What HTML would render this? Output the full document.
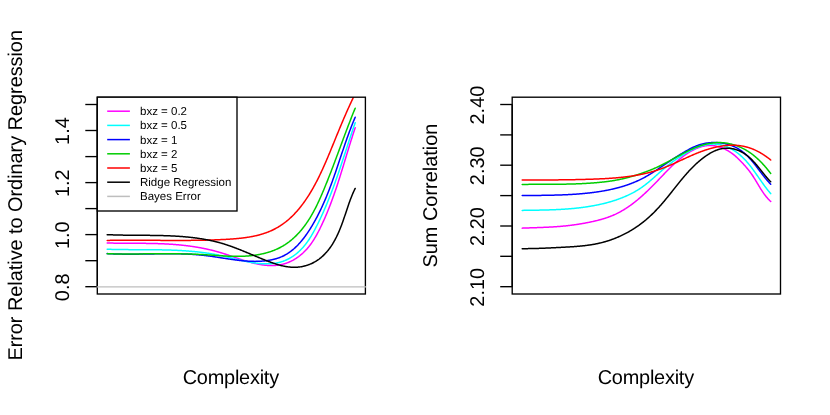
<!DOCTYPE html>
<html><head><meta charset="utf-8"><title>plot</title>
<style>
html,body{margin:0;padding:0;background:#fff;}
svg{display:block;will-change:transform;font-family:"Liberation Sans",sans-serif;fill:#000;text-rendering:geometricPrecision;}
</style></head><body>
<svg width="830" height="415" viewBox="0 0 830 415">
<rect width="830" height="415" fill="#fff"/>
<defs>
<clipPath id="cl"><rect x="97.3" y="97.2" width="268.1" height="196.8"/></clipPath>
<clipPath id="cr"><rect x="512.2" y="97.2" width="268.3" height="196.8"/></clipPath>
</defs>
<!-- left panel -->
<g clip-path="url(#cl)">
<polyline fill="none" stroke="#ff00ff" stroke-width="1.5" stroke-linecap="round" stroke-linejoin="round" points="107.2,242.98 107.7,242.99 108.2,243.01 108.7,243.02 109.2,243.03 109.7,243.05 110.2,243.06 110.7,243.07 111.2,243.08 111.7,243.09 112.2,243.10 112.7,243.11 113.2,243.12 113.7,243.13 114.2,243.14 114.7,243.15 115.2,243.15 115.7,243.16 116.2,243.17 116.7,243.18 117.2,243.18 117.7,243.19 118.2,243.19 118.7,243.20 119.2,243.20 119.7,243.21 120.2,243.21 120.7,243.22 121.2,243.22 121.7,243.23 122.2,243.23 122.7,243.24 123.2,243.24 123.7,243.24 124.2,243.25 124.7,243.25 125.2,243.25 125.7,243.25 126.2,243.26 126.7,243.26 127.2,243.26 127.7,243.26 128.2,243.27 128.7,243.27 129.2,243.27 129.7,243.27 130.2,243.28 130.7,243.28 131.2,243.28 131.7,243.28 132.2,243.28 132.7,243.29 133.2,243.29 133.7,243.29 134.2,243.29 134.7,243.29 135.2,243.30 135.7,243.30 136.2,243.30 136.7,243.30 137.2,243.31 137.7,243.31 138.2,243.31 138.7,243.31 139.2,243.32 139.7,243.32 140.2,243.32 140.7,243.33 141.2,243.33 141.7,243.33 142.2,243.34 142.7,243.34 143.2,243.35 143.7,243.35 144.2,243.36 144.7,243.36 145.2,243.37 145.7,243.37 146.2,243.38 146.7,243.39 147.2,243.39 147.7,243.40 148.2,243.41 148.7,243.41 149.2,243.42 149.7,243.43 150.2,243.44 150.7,243.45 151.2,243.46 151.7,243.47 152.2,243.48 152.7,243.49 153.2,243.50 153.7,243.51 154.2,243.52 154.7,243.53 155.2,243.55 155.7,243.56 156.2,243.57 156.7,243.59 157.2,243.60 157.7,243.62 158.2,243.64 158.7,243.65 159.2,243.67 159.7,243.69 160.2,243.70 160.7,243.72 161.2,243.74 161.7,243.76 162.2,243.78 162.7,243.80 163.2,243.82 163.7,243.85 164.2,243.87 164.7,243.89 165.2,243.92 165.7,243.94 166.2,243.97 166.7,244.00 167.2,244.02 167.7,244.05 168.2,244.08 168.7,244.11 169.2,244.14 169.7,244.17 170.2,244.20 170.7,244.23 171.2,244.27 171.7,244.30 172.2,244.33 172.7,244.37 173.2,244.41 173.7,244.44 174.2,244.48 174.7,244.52 175.2,244.56 175.7,244.60 176.2,244.64 176.7,244.68 177.2,244.73 177.7,244.77 178.2,244.81 178.7,244.86 179.2,244.91 179.7,244.95 180.2,245.00 180.7,245.05 181.2,245.10 181.7,245.15 182.2,245.21 182.7,245.26 183.2,245.31 183.7,245.37 184.2,245.42 184.7,245.48 185.2,245.54 185.7,245.60 186.2,245.66 186.7,245.72 187.2,245.78 187.7,245.84 188.2,245.90 188.7,245.97 189.2,246.04 189.7,246.10 190.2,246.17 190.7,246.24 191.2,246.31 191.7,246.38 192.2,246.45 192.7,246.53 193.2,246.60 193.7,246.68 194.2,246.75 194.7,246.83 195.2,246.91 195.7,246.99 196.2,247.07 196.7,247.16 197.2,247.24 197.7,247.32 198.2,247.41 198.7,247.50 199.2,247.59 199.7,247.68 200.2,247.77 200.7,247.86 201.2,247.95 201.7,248.05 202.2,248.14 202.7,248.24 203.2,248.34 203.7,248.44 204.2,248.54 204.7,248.64 205.2,248.75 205.7,248.85 206.2,248.96 206.7,249.07 207.2,249.18 207.7,249.29 208.2,249.40 208.7,249.51 209.2,249.63 209.7,249.74 210.2,249.86 210.7,249.98 211.2,250.10 211.7,250.22 212.2,250.34 212.7,250.47 213.2,250.59 213.7,250.72 214.2,250.85 214.7,250.98 215.2,251.11 215.7,251.25 216.2,251.38 216.7,251.52 217.2,251.66 217.7,251.79 218.2,251.94 218.7,252.08 219.2,252.22 219.7,252.37 220.2,252.52 220.7,252.67 221.2,252.82 221.7,252.97 222.2,253.12 222.7,253.28 223.2,253.43 223.7,253.59 224.2,253.75 224.7,253.92 225.2,254.08 225.7,254.24 226.2,254.41 226.7,254.57 227.2,254.74 227.7,254.91 228.2,255.08 228.7,255.25 229.2,255.42 229.7,255.59 230.2,255.76 230.7,255.93 231.2,256.11 231.7,256.28 232.2,256.45 232.7,256.63 233.2,256.80 233.7,256.97 234.2,257.15 234.7,257.32 235.2,257.49 235.7,257.67 236.2,257.84 236.7,258.01 237.2,258.18 237.7,258.35 238.2,258.52 238.7,258.69 239.2,258.86 239.7,259.03 240.2,259.20 240.7,259.36 241.2,259.53 241.7,259.69 242.2,259.86 242.7,260.02 243.2,260.18 243.7,260.34 244.2,260.50 244.7,260.65 245.2,260.81 245.7,260.96 246.2,261.11 246.7,261.26 247.2,261.41 247.7,261.56 248.2,261.70 248.7,261.85 249.2,261.99 249.7,262.13 250.2,262.26 250.7,262.40 251.2,262.53 251.7,262.66 252.2,262.79 252.7,262.92 253.2,263.04 253.7,263.16 254.2,263.28 254.7,263.40 255.2,263.51 255.7,263.62 256.2,263.73 256.7,263.84 257.2,263.94 257.7,264.05 258.2,264.14 258.7,264.24 259.2,264.33 259.7,264.42 260.2,264.51 260.7,264.59 261.2,264.67 261.7,264.75 262.2,264.83 262.7,264.90 263.2,264.96 263.7,265.03 264.2,265.09 264.7,265.15 265.2,265.20 265.7,265.25 266.2,265.30 266.7,265.34 267.2,265.38 267.7,265.41 268.2,265.44 268.7,265.47 269.2,265.49 269.7,265.51 270.2,265.53 270.7,265.54 271.2,265.54 271.7,265.54 272.2,265.54 272.7,265.53 273.2,265.52 273.7,265.50 274.2,265.48 274.7,265.45 275.2,265.42 275.7,265.38 276.2,265.34 276.7,265.29 277.2,265.24 277.7,265.18 278.2,265.11 278.7,265.04 279.2,264.96 279.7,264.88 280.2,264.79 280.7,264.69 281.2,264.59 281.7,264.48 282.2,264.37 282.7,264.25 283.2,264.12 283.7,263.98 284.2,263.84 284.7,263.69 285.2,263.54 285.7,263.37 286.2,263.20 286.7,263.03 287.2,262.84 287.7,262.65 288.2,262.45 288.7,262.25 289.2,262.03 289.7,261.81 290.2,261.59 290.7,261.35 291.2,261.11 291.7,260.86 292.2,260.60 292.7,260.34 293.2,260.06 293.7,259.78 294.2,259.49 294.7,259.20 295.2,258.89 295.7,258.58 296.2,258.26 296.7,257.93 297.2,257.59 297.7,257.24 298.2,256.88 298.7,256.52 299.2,256.14 299.7,255.76 300.2,255.36 300.7,254.96 301.2,254.54 301.7,254.12 302.2,253.68 302.7,253.24 303.2,252.78 303.7,252.31 304.2,251.83 304.7,251.33 305.2,250.83 305.7,250.31 306.2,249.77 306.7,249.22 307.2,248.66 307.7,248.08 308.2,247.49 308.7,246.88 309.2,246.25 309.7,245.61 310.2,244.95 310.7,244.27 311.2,243.58 311.7,242.87 312.2,242.14 312.7,241.40 313.2,240.64 313.7,239.85 314.2,239.05 314.7,238.23 315.2,237.40 315.7,236.54 316.2,235.66 316.7,234.77 317.2,233.86 317.7,232.93 318.2,231.98 318.7,231.02 319.2,230.04 319.7,229.04 320.2,228.03 320.7,227.00 321.2,225.96 321.7,224.91 322.2,223.85 322.7,222.77 323.2,221.68 323.7,220.58 324.2,219.46 324.7,218.33 325.2,217.19 325.7,216.03 326.2,214.85 326.7,213.67 327.2,212.46 327.7,211.25 328.2,210.02 328.7,208.77 329.2,207.51 329.7,206.23 330.2,204.93 330.7,203.62 331.2,202.30 331.7,200.96 332.2,199.60 332.7,198.23 333.2,196.84 333.7,195.44 334.2,194.02 334.7,192.58 335.2,191.13 335.7,189.66 336.2,188.18 336.7,186.69 337.2,185.18 337.7,183.66 338.2,182.12 338.7,180.57 339.2,179.01 339.7,177.44 340.2,175.85 340.7,174.26 341.2,172.65 341.7,171.04 342.2,169.42 342.7,167.79 343.2,166.16 343.7,164.52 344.2,162.88 344.7,161.24 345.2,159.59 345.7,157.94 346.2,156.30 346.7,154.65 347.2,153.01 347.7,151.37 348.2,149.73 348.7,148.10 349.2,146.48 349.7,144.86 350.2,143.25 350.7,141.65 351.2,140.06 351.7,138.48 352.2,136.91 352.7,135.35 353.2,133.81 353.7,132.27 354.2,130.75 354.7,129.25 355.2,127.75"/>
<polyline fill="none" stroke="#00ffff" stroke-width="1.5" stroke-linecap="round" stroke-linejoin="round" points="107.2,249.26 107.7,249.28 108.2,249.29 108.7,249.31 109.2,249.32 109.7,249.33 110.2,249.35 110.7,249.36 111.2,249.37 111.7,249.39 112.2,249.40 112.7,249.41 113.2,249.42 113.7,249.43 114.2,249.44 114.7,249.45 115.2,249.46 115.7,249.47 116.2,249.48 116.7,249.49 117.2,249.50 117.7,249.51 118.2,249.52 118.7,249.52 119.2,249.53 119.7,249.54 120.2,249.55 120.7,249.55 121.2,249.56 121.7,249.56 122.2,249.57 122.7,249.58 123.2,249.58 123.7,249.59 124.2,249.59 124.7,249.59 125.2,249.60 125.7,249.60 126.2,249.61 126.7,249.61 127.2,249.62 127.7,249.62 128.2,249.62 128.7,249.63 129.2,249.63 129.7,249.63 130.2,249.63 130.7,249.64 131.2,249.64 131.7,249.64 132.2,249.64 132.7,249.65 133.2,249.65 133.7,249.65 134.2,249.65 134.7,249.65 135.2,249.66 135.7,249.66 136.2,249.66 136.7,249.66 137.2,249.66 137.7,249.67 138.2,249.67 138.7,249.67 139.2,249.67 139.7,249.67 140.2,249.67 140.7,249.68 141.2,249.68 141.7,249.68 142.2,249.68 142.7,249.68 143.2,249.68 143.7,249.69 144.2,249.69 144.7,249.69 145.2,249.69 145.7,249.70 146.2,249.70 146.7,249.70 147.2,249.70 147.7,249.71 148.2,249.71 148.7,249.71 149.2,249.72 149.7,249.72 150.2,249.72 150.7,249.73 151.2,249.73 151.7,249.74 152.2,249.74 152.7,249.74 153.2,249.75 153.7,249.75 154.2,249.76 154.7,249.76 155.2,249.77 155.7,249.78 156.2,249.78 156.7,249.79 157.2,249.80 157.7,249.80 158.2,249.81 158.7,249.82 159.2,249.83 159.7,249.83 160.2,249.84 160.7,249.85 161.2,249.86 161.7,249.87 162.2,249.88 162.7,249.89 163.2,249.90 163.7,249.91 164.2,249.92 164.7,249.93 165.2,249.95 165.7,249.96 166.2,249.97 166.7,249.98 167.2,250.00 167.7,250.01 168.2,250.03 168.7,250.04 169.2,250.06 169.7,250.07 170.2,250.09 170.7,250.11 171.2,250.12 171.7,250.14 172.2,250.16 172.7,250.18 173.2,250.20 173.7,250.22 174.2,250.24 174.7,250.26 175.2,250.28 175.7,250.30 176.2,250.32 176.7,250.35 177.2,250.37 177.7,250.39 178.2,250.42 178.7,250.44 179.2,250.47 179.7,250.50 180.2,250.52 180.7,250.55 181.2,250.58 181.7,250.61 182.2,250.64 182.7,250.67 183.2,250.70 183.7,250.73 184.2,250.76 184.7,250.80 185.2,250.83 185.7,250.87 186.2,250.90 186.7,250.94 187.2,250.97 187.7,251.01 188.2,251.05 188.7,251.09 189.2,251.13 189.7,251.17 190.2,251.21 190.7,251.25 191.2,251.29 191.7,251.34 192.2,251.38 192.7,251.43 193.2,251.47 193.7,251.52 194.2,251.57 194.7,251.62 195.2,251.66 195.7,251.71 196.2,251.77 196.7,251.82 197.2,251.87 197.7,251.92 198.2,251.98 198.7,252.03 199.2,252.09 199.7,252.15 200.2,252.21 200.7,252.26 201.2,252.32 201.7,252.39 202.2,252.45 202.7,252.51 203.2,252.57 203.7,252.64 204.2,252.71 204.7,252.77 205.2,252.84 205.7,252.91 206.2,252.98 206.7,253.05 207.2,253.12 207.7,253.19 208.2,253.27 208.7,253.34 209.2,253.42 209.7,253.50 210.2,253.58 210.7,253.66 211.2,253.74 211.7,253.82 212.2,253.90 212.7,253.98 213.2,254.07 213.7,254.16 214.2,254.24 214.7,254.33 215.2,254.42 215.7,254.51 216.2,254.60 216.7,254.70 217.2,254.79 217.7,254.89 218.2,254.98 218.7,255.08 219.2,255.18 219.7,255.28 220.2,255.38 220.7,255.49 221.2,255.59 221.7,255.70 222.2,255.80 222.7,255.91 223.2,256.02 223.7,256.13 224.2,256.24 224.7,256.36 225.2,256.47 225.7,256.59 226.2,256.70 226.7,256.82 227.2,256.94 227.7,257.06 228.2,257.18 228.7,257.29 229.2,257.42 229.7,257.54 230.2,257.66 230.7,257.78 231.2,257.90 231.7,258.02 232.2,258.15 232.7,258.27 233.2,258.39 233.7,258.52 234.2,258.64 234.7,258.76 235.2,258.88 235.7,259.01 236.2,259.13 236.7,259.25 237.2,259.37 237.7,259.49 238.2,259.62 238.7,259.74 239.2,259.86 239.7,259.97 240.2,260.09 240.7,260.21 241.2,260.33 241.7,260.44 242.2,260.56 242.7,260.67 243.2,260.79 243.7,260.90 244.2,261.01 244.7,261.12 245.2,261.23 245.7,261.33 246.2,261.44 246.7,261.54 247.2,261.64 247.7,261.74 248.2,261.84 248.7,261.94 249.2,262.04 249.7,262.13 250.2,262.22 250.7,262.31 251.2,262.40 251.7,262.49 252.2,262.57 252.7,262.65 253.2,262.73 253.7,262.81 254.2,262.89 254.7,262.96 255.2,263.03 255.7,263.10 256.2,263.16 256.7,263.22 257.2,263.28 257.7,263.34 258.2,263.40 258.7,263.45 259.2,263.50 259.7,263.54 260.2,263.59 260.7,263.63 261.2,263.66 261.7,263.70 262.2,263.73 262.7,263.75 263.2,263.78 263.7,263.80 264.2,263.81 264.7,263.83 265.2,263.84 265.7,263.84 266.2,263.85 266.7,263.85 267.2,263.84 267.7,263.83 268.2,263.82 268.7,263.80 269.2,263.78 269.7,263.76 270.2,263.73 270.7,263.70 271.2,263.66 271.7,263.62 272.2,263.57 272.7,263.52 273.2,263.47 273.7,263.41 274.2,263.34 274.7,263.27 275.2,263.20 275.7,263.12 276.2,263.03 276.7,262.94 277.2,262.85 277.7,262.74 278.2,262.64 278.7,262.52 279.2,262.40 279.7,262.28 280.2,262.15 280.7,262.01 281.2,261.86 281.7,261.71 282.2,261.55 282.7,261.38 283.2,261.21 283.7,261.02 284.2,260.83 284.7,260.64 285.2,260.43 285.7,260.22 286.2,260.00 286.7,259.77 287.2,259.54 287.7,259.30 288.2,259.04 288.7,258.78 289.2,258.52 289.7,258.24 290.2,257.96 290.7,257.67 291.2,257.37 291.7,257.06 292.2,256.74 292.7,256.41 293.2,256.08 293.7,255.73 294.2,255.38 294.7,255.01 295.2,254.64 295.7,254.26 296.2,253.86 296.7,253.46 297.2,253.05 297.7,252.62 298.2,252.19 298.7,251.74 299.2,251.29 299.7,250.82 300.2,250.34 300.7,249.84 301.2,249.33 301.7,248.81 302.2,248.28 302.7,247.73 303.2,247.17 303.7,246.59 304.2,246.00 304.7,245.39 305.2,244.77 305.7,244.13 306.2,243.48 306.7,242.81 307.2,242.12 307.7,241.42 308.2,240.70 308.7,239.96 309.2,239.21 309.7,238.44 310.2,237.65 310.7,236.84 311.2,236.02 311.7,235.19 312.2,234.33 312.7,233.46 313.2,232.57 313.7,231.67 314.2,230.75 314.7,229.82 315.2,228.88 315.7,227.92 316.2,226.95 316.7,225.97 317.2,224.98 317.7,223.99 318.2,222.98 318.7,221.96 319.2,220.93 319.7,219.89 320.2,218.84 320.7,217.78 321.2,216.71 321.7,215.63 322.2,214.54 322.7,213.44 323.2,212.32 323.7,211.20 324.2,210.06 324.7,208.91 325.2,207.76 325.7,206.59 326.2,205.41 326.7,204.21 327.2,203.01 327.7,201.79 328.2,200.56 328.7,199.32 329.2,198.07 329.7,196.81 330.2,195.53 330.7,194.25 331.2,192.95 331.7,191.64 332.2,190.32 332.7,188.99 333.2,187.64 333.7,186.29 334.2,184.92 334.7,183.55 335.2,182.16 335.7,180.76 336.2,179.36 336.7,177.94 337.2,176.51 337.7,175.08 338.2,173.63 338.7,172.18 339.2,170.72 339.7,169.25 340.2,167.77 340.7,166.29 341.2,164.80 341.7,163.31 342.2,161.80 342.7,160.30 343.2,158.79 343.7,157.28 344.2,155.76 344.7,154.24 345.2,152.72 345.7,151.19 346.2,149.67 346.7,148.15 347.2,146.62 347.7,145.10 348.2,143.58 348.7,142.06 349.2,140.55 349.7,139.03 350.2,137.52 350.7,136.02 351.2,134.52 351.7,133.03 352.2,131.54 352.7,130.06 353.2,128.58 353.7,127.11 354.2,125.65 354.7,124.20 355.2,122.76"/>
<polyline fill="none" stroke="#0000ff" stroke-width="1.5" stroke-linecap="round" stroke-linejoin="round" points="107.2,253.60 107.7,253.62 108.2,253.65 108.7,253.68 109.2,253.71 109.7,253.73 110.2,253.76 110.7,253.78 111.2,253.81 111.7,253.83 112.2,253.85 112.7,253.87 113.2,253.89 113.7,253.91 114.2,253.93 114.7,253.95 115.2,253.96 115.7,253.98 116.2,254.00 116.7,254.01 117.2,254.03 117.7,254.04 118.2,254.05 118.7,254.06 119.2,254.08 119.7,254.09 120.2,254.10 120.7,254.11 121.2,254.12 121.7,254.12 122.2,254.13 122.7,254.14 123.2,254.15 123.7,254.15 124.2,254.16 124.7,254.16 125.2,254.17 125.7,254.17 126.2,254.17 126.7,254.18 127.2,254.18 127.7,254.18 128.2,254.18 128.7,254.18 129.2,254.18 129.7,254.18 130.2,254.18 130.7,254.18 131.2,254.18 131.7,254.18 132.2,254.18 132.7,254.18 133.2,254.17 133.7,254.17 134.2,254.17 134.7,254.16 135.2,254.16 135.7,254.16 136.2,254.15 136.7,254.15 137.2,254.14 137.7,254.14 138.2,254.13 138.7,254.13 139.2,254.12 139.7,254.11 140.2,254.11 140.7,254.10 141.2,254.09 141.7,254.09 142.2,254.08 142.7,254.07 143.2,254.06 143.7,254.06 144.2,254.05 144.7,254.04 145.2,254.03 145.7,254.02 146.2,254.02 146.7,254.01 147.2,254.00 147.7,253.99 148.2,253.98 148.7,253.97 149.2,253.97 149.7,253.96 150.2,253.95 150.7,253.94 151.2,253.93 151.7,253.92 152.2,253.92 152.7,253.91 153.2,253.90 153.7,253.89 154.2,253.88 154.7,253.87 155.2,253.87 155.7,253.86 156.2,253.85 156.7,253.84 157.2,253.84 157.7,253.83 158.2,253.82 158.7,253.82 159.2,253.81 159.7,253.80 160.2,253.80 160.7,253.79 161.2,253.79 161.7,253.78 162.2,253.78 162.7,253.77 163.2,253.77 163.7,253.76 164.2,253.76 164.7,253.75 165.2,253.75 165.7,253.75 166.2,253.75 166.7,253.74 167.2,253.74 167.7,253.74 168.2,253.74 168.7,253.74 169.2,253.74 169.7,253.74 170.2,253.74 170.7,253.74 171.2,253.74 171.7,253.74 172.2,253.75 172.7,253.75 173.2,253.75 173.7,253.76 174.2,253.76 174.7,253.77 175.2,253.77 175.7,253.78 176.2,253.78 176.7,253.79 177.2,253.80 177.7,253.81 178.2,253.82 178.7,253.83 179.2,253.84 179.7,253.85 180.2,253.86 180.7,253.87 181.2,253.88 181.7,253.90 182.2,253.91 182.7,253.93 183.2,253.94 183.7,253.96 184.2,253.98 184.7,254.00 185.2,254.01 185.7,254.03 186.2,254.05 186.7,254.08 187.2,254.10 187.7,254.12 188.2,254.14 188.7,254.17 189.2,254.19 189.7,254.22 190.2,254.25 190.7,254.28 191.2,254.30 191.7,254.33 192.2,254.36 192.7,254.40 193.2,254.43 193.7,254.46 194.2,254.50 194.7,254.53 195.2,254.57 195.7,254.61 196.2,254.64 196.7,254.68 197.2,254.72 197.7,254.77 198.2,254.81 198.7,254.85 199.2,254.90 199.7,254.94 200.2,254.99 200.7,255.04 201.2,255.09 201.7,255.14 202.2,255.19 202.7,255.24 203.2,255.29 203.7,255.35 204.2,255.41 204.7,255.46 205.2,255.52 205.7,255.58 206.2,255.64 206.7,255.70 207.2,255.77 207.7,255.83 208.2,255.90 208.7,255.96 209.2,256.03 209.7,256.10 210.2,256.17 210.7,256.23 211.2,256.31 211.7,256.38 212.2,256.45 212.7,256.52 213.2,256.59 213.7,256.67 214.2,256.74 214.7,256.82 215.2,256.89 215.7,256.97 216.2,257.04 216.7,257.12 217.2,257.20 217.7,257.27 218.2,257.35 218.7,257.43 219.2,257.51 219.7,257.59 220.2,257.66 220.7,257.74 221.2,257.82 221.7,257.90 222.2,257.98 222.7,258.06 223.2,258.14 223.7,258.21 224.2,258.29 224.7,258.37 225.2,258.45 225.7,258.53 226.2,258.60 226.7,258.68 227.2,258.76 227.7,258.83 228.2,258.91 228.7,258.98 229.2,259.06 229.7,259.13 230.2,259.21 230.7,259.28 231.2,259.35 231.7,259.42 232.2,259.50 232.7,259.57 233.2,259.63 233.7,259.70 234.2,259.77 234.7,259.84 235.2,259.90 235.7,259.97 236.2,260.03 236.7,260.10 237.2,260.16 237.7,260.22 238.2,260.28 238.7,260.34 239.2,260.39 239.7,260.45 240.2,260.50 240.7,260.56 241.2,260.61 241.7,260.66 242.2,260.71 242.7,260.76 243.2,260.80 243.7,260.85 244.2,260.89 244.7,260.93 245.2,260.97 245.7,261.01 246.2,261.05 246.7,261.08 247.2,261.12 247.7,261.15 248.2,261.18 248.7,261.20 249.2,261.23 249.7,261.25 250.2,261.28 250.7,261.30 251.2,261.31 251.7,261.33 252.2,261.34 252.7,261.35 253.2,261.36 253.7,261.37 254.2,261.37 254.7,261.38 255.2,261.38 255.7,261.37 256.2,261.37 256.7,261.36 257.2,261.35 257.7,261.34 258.2,261.33 258.7,261.31 259.2,261.29 259.7,261.27 260.2,261.24 260.7,261.21 261.2,261.18 261.7,261.15 262.2,261.11 262.7,261.08 263.2,261.03 263.7,260.99 264.2,260.94 264.7,260.89 265.2,260.84 265.7,260.78 266.2,260.72 266.7,260.65 267.2,260.59 267.7,260.51 268.2,260.44 268.7,260.36 269.2,260.28 269.7,260.19 270.2,260.10 270.7,260.01 271.2,259.91 271.7,259.81 272.2,259.70 272.7,259.59 273.2,259.47 273.7,259.35 274.2,259.23 274.7,259.10 275.2,258.96 275.7,258.82 276.2,258.68 276.7,258.53 277.2,258.37 277.7,258.21 278.2,258.04 278.7,257.86 279.2,257.68 279.7,257.50 280.2,257.30 280.7,257.10 281.2,256.89 281.7,256.68 282.2,256.45 282.7,256.22 283.2,255.98 283.7,255.74 284.2,255.48 284.7,255.22 285.2,254.95 285.7,254.67 286.2,254.38 286.7,254.08 287.2,253.77 287.7,253.46 288.2,253.13 288.7,252.80 289.2,252.46 289.7,252.11 290.2,251.75 290.7,251.38 291.2,251.00 291.7,250.61 292.2,250.21 292.7,249.80 293.2,249.38 293.7,248.96 294.2,248.52 294.7,248.07 295.2,247.61 295.7,247.14 296.2,246.67 296.7,246.18 297.2,245.68 297.7,245.17 298.2,244.65 298.7,244.11 299.2,243.57 299.7,243.02 300.2,242.45 300.7,241.88 301.2,241.29 301.7,240.69 302.2,240.08 302.7,239.46 303.2,238.83 303.7,238.19 304.2,237.53 304.7,236.87 305.2,236.19 305.7,235.50 306.2,234.80 306.7,234.09 307.2,233.37 307.7,232.63 308.2,231.89 308.7,231.13 309.2,230.36 309.7,229.58 310.2,228.79 310.7,227.99 311.2,227.18 311.7,226.35 312.2,225.52 312.7,224.68 313.2,223.82 313.7,222.96 314.2,222.08 314.7,221.19 315.2,220.30 315.7,219.38 316.2,218.46 316.7,217.53 317.2,216.58 317.7,215.62 318.2,214.65 318.7,213.66 319.2,212.67 319.7,211.65 320.2,210.63 320.7,209.59 321.2,208.54 321.7,207.47 322.2,206.39 322.7,205.29 323.2,204.18 323.7,203.06 324.2,201.92 324.7,200.77 325.2,199.60 325.7,198.41 326.2,197.21 326.7,196.00 327.2,194.77 327.7,193.52 328.2,192.26 328.7,190.98 329.2,189.69 329.7,188.39 330.2,187.07 330.7,185.73 331.2,184.38 331.7,183.02 332.2,181.64 332.7,180.25 333.2,178.85 333.7,177.44 334.2,176.02 334.7,174.58 335.2,173.14 335.7,171.68 336.2,170.22 336.7,168.75 337.2,167.28 337.7,165.79 338.2,164.31 338.7,162.82 339.2,161.32 339.7,159.83 340.2,158.33 340.7,156.84 341.2,155.34 341.7,153.85 342.2,152.36 342.7,150.88 343.2,149.40 343.7,147.93 344.2,146.46 344.7,145.00 345.2,143.56 345.7,142.12 346.2,140.69 346.7,139.27 347.2,137.86 347.7,136.47 348.2,135.09 348.7,133.72 349.2,132.36 349.7,131.02 350.2,129.69 350.7,128.38 351.2,127.08 351.7,125.79 352.2,124.52 352.7,123.27 353.2,122.02 353.7,120.80 354.2,119.59 354.7,118.39 355.2,117.21"/>
<polyline fill="none" stroke="#00cd00" stroke-width="1.5" stroke-linecap="round" stroke-linejoin="round" points="107.2,253.76 107.7,253.77 108.2,253.78 108.7,253.79 109.2,253.80 109.7,253.81 110.2,253.82 110.7,253.83 111.2,253.84 111.7,253.85 112.2,253.85 112.7,253.86 113.2,253.87 113.7,253.87 114.2,253.88 114.7,253.89 115.2,253.89 115.7,253.90 116.2,253.90 116.7,253.91 117.2,253.91 117.7,253.92 118.2,253.92 118.7,253.92 119.2,253.93 119.7,253.93 120.2,253.93 120.7,253.94 121.2,253.94 121.7,253.94 122.2,253.94 122.7,253.94 123.2,253.95 123.7,253.95 124.2,253.95 124.7,253.95 125.2,253.95 125.7,253.95 126.2,253.95 126.7,253.95 127.2,253.95 127.7,253.95 128.2,253.95 128.7,253.95 129.2,253.95 129.7,253.95 130.2,253.94 130.7,253.94 131.2,253.94 131.7,253.94 132.2,253.94 132.7,253.94 133.2,253.93 133.7,253.93 134.2,253.93 134.7,253.93 135.2,253.92 135.7,253.92 136.2,253.92 136.7,253.92 137.2,253.91 137.7,253.91 138.2,253.91 138.7,253.90 139.2,253.90 139.7,253.90 140.2,253.89 140.7,253.89 141.2,253.89 141.7,253.88 142.2,253.88 142.7,253.88 143.2,253.87 143.7,253.87 144.2,253.86 144.7,253.86 145.2,253.86 145.7,253.85 146.2,253.85 146.7,253.84 147.2,253.84 147.7,253.84 148.2,253.83 148.7,253.83 149.2,253.83 149.7,253.82 150.2,253.82 150.7,253.81 151.2,253.81 151.7,253.81 152.2,253.80 152.7,253.80 153.2,253.80 153.7,253.79 154.2,253.79 154.7,253.79 155.2,253.78 155.7,253.78 156.2,253.78 156.7,253.77 157.2,253.77 157.7,253.77 158.2,253.77 158.7,253.76 159.2,253.76 159.7,253.76 160.2,253.76 160.7,253.76 161.2,253.75 161.7,253.75 162.2,253.75 162.7,253.75 163.2,253.75 163.7,253.75 164.2,253.75 164.7,253.75 165.2,253.75 165.7,253.75 166.2,253.74 166.7,253.75 167.2,253.75 167.7,253.75 168.2,253.75 168.7,253.75 169.2,253.75 169.7,253.75 170.2,253.75 170.7,253.75 171.2,253.76 171.7,253.76 172.2,253.76 172.7,253.76 173.2,253.77 173.7,253.77 174.2,253.77 174.7,253.78 175.2,253.78 175.7,253.79 176.2,253.79 176.7,253.80 177.2,253.80 177.7,253.81 178.2,253.81 178.7,253.82 179.2,253.83 179.7,253.83 180.2,253.84 180.7,253.85 181.2,253.86 181.7,253.86 182.2,253.87 182.7,253.88 183.2,253.89 183.7,253.90 184.2,253.91 184.7,253.92 185.2,253.93 185.7,253.94 186.2,253.96 186.7,253.97 187.2,253.98 187.7,253.99 188.2,254.01 188.7,254.02 189.2,254.03 189.7,254.05 190.2,254.06 190.7,254.08 191.2,254.09 191.7,254.11 192.2,254.13 192.7,254.14 193.2,254.16 193.7,254.18 194.2,254.20 194.7,254.22 195.2,254.24 195.7,254.26 196.2,254.28 196.7,254.30 197.2,254.32 197.7,254.34 198.2,254.36 198.7,254.38 199.2,254.41 199.7,254.43 200.2,254.46 200.7,254.48 201.2,254.51 201.7,254.53 202.2,254.56 202.7,254.58 203.2,254.61 203.7,254.64 204.2,254.67 204.7,254.70 205.2,254.73 205.7,254.76 206.2,254.79 206.7,254.82 207.2,254.85 207.7,254.88 208.2,254.91 208.7,254.95 209.2,254.98 209.7,255.01 210.2,255.05 210.7,255.08 211.2,255.11 211.7,255.15 212.2,255.18 212.7,255.22 213.2,255.25 213.7,255.28 214.2,255.32 214.7,255.35 215.2,255.39 215.7,255.42 216.2,255.46 216.7,255.49 217.2,255.52 217.7,255.56 218.2,255.59 218.7,255.62 219.2,255.66 219.7,255.69 220.2,255.72 220.7,255.75 221.2,255.78 221.7,255.81 222.2,255.84 222.7,255.87 223.2,255.90 223.7,255.93 224.2,255.96 224.7,255.98 225.2,256.01 225.7,256.04 226.2,256.06 226.7,256.09 227.2,256.11 227.7,256.13 228.2,256.15 228.7,256.17 229.2,256.19 229.7,256.21 230.2,256.23 230.7,256.25 231.2,256.26 231.7,256.28 232.2,256.29 232.7,256.30 233.2,256.31 233.7,256.32 234.2,256.33 234.7,256.34 235.2,256.35 235.7,256.35 236.2,256.35 236.7,256.36 237.2,256.36 237.7,256.36 238.2,256.35 238.7,256.35 239.2,256.34 239.7,256.34 240.2,256.33 240.7,256.32 241.2,256.31 241.7,256.29 242.2,256.28 242.7,256.26 243.2,256.24 243.7,256.22 244.2,256.20 244.7,256.17 245.2,256.15 245.7,256.12 246.2,256.09 246.7,256.05 247.2,256.02 247.7,255.98 248.2,255.94 248.7,255.90 249.2,255.86 249.7,255.81 250.2,255.77 250.7,255.72 251.2,255.66 251.7,255.61 252.2,255.55 252.7,255.49 253.2,255.43 253.7,255.37 254.2,255.30 254.7,255.23 255.2,255.16 255.7,255.09 256.2,255.01 256.7,254.94 257.2,254.85 257.7,254.77 258.2,254.68 258.7,254.59 259.2,254.50 259.7,254.41 260.2,254.31 260.7,254.21 261.2,254.11 261.7,254.00 262.2,253.89 262.7,253.78 263.2,253.66 263.7,253.54 264.2,253.42 264.7,253.30 265.2,253.17 265.7,253.04 266.2,252.90 266.7,252.76 267.2,252.62 267.7,252.48 268.2,252.33 268.7,252.18 269.2,252.02 269.7,251.86 270.2,251.69 270.7,251.53 271.2,251.35 271.7,251.18 272.2,251.00 272.7,250.81 273.2,250.63 273.7,250.43 274.2,250.24 274.7,250.03 275.2,249.83 275.7,249.62 276.2,249.40 276.7,249.18 277.2,248.95 277.7,248.72 278.2,248.48 278.7,248.24 279.2,247.99 279.7,247.74 280.2,247.48 280.7,247.22 281.2,246.95 281.7,246.67 282.2,246.39 282.7,246.10 283.2,245.80 283.7,245.50 284.2,245.19 284.7,244.88 285.2,244.55 285.7,244.23 286.2,243.89 286.7,243.55 287.2,243.20 287.7,242.84 288.2,242.48 288.7,242.10 289.2,241.73 289.7,241.34 290.2,240.95 290.7,240.55 291.2,240.14 291.7,239.72 292.2,239.30 292.7,238.86 293.2,238.42 293.7,237.97 294.2,237.52 294.7,237.05 295.2,236.58 295.7,236.10 296.2,235.60 296.7,235.10 297.2,234.59 297.7,234.08 298.2,233.55 298.7,233.01 299.2,232.46 299.7,231.90 300.2,231.34 300.7,230.76 301.2,230.17 301.7,229.57 302.2,228.96 302.7,228.34 303.2,227.71 303.7,227.06 304.2,226.40 304.7,225.74 305.2,225.05 305.7,224.36 306.2,223.65 306.7,222.93 307.2,222.20 307.7,221.46 308.2,220.70 308.7,219.92 309.2,219.14 309.7,218.34 310.2,217.52 310.7,216.69 311.2,215.85 311.7,214.99 312.2,214.11 312.7,213.22 313.2,212.32 313.7,211.40 314.2,210.46 314.7,209.51 315.2,208.55 315.7,207.57 316.2,206.57 316.7,205.56 317.2,204.53 317.7,203.49 318.2,202.43 318.7,201.36 319.2,200.28 319.7,199.18 320.2,198.06 320.7,196.94 321.2,195.80 321.7,194.65 322.2,193.48 322.7,192.31 323.2,191.12 323.7,189.93 324.2,188.73 324.7,187.52 325.2,186.30 325.7,185.07 326.2,183.84 326.7,182.60 327.2,181.36 327.7,180.10 328.2,178.84 328.7,177.58 329.2,176.30 329.7,175.03 330.2,173.74 330.7,172.45 331.2,171.15 331.7,169.85 332.2,168.54 332.7,167.23 333.2,165.92 333.7,164.60 334.2,163.27 334.7,161.94 335.2,160.61 335.7,159.28 336.2,157.94 336.7,156.60 337.2,155.25 337.7,153.91 338.2,152.56 338.7,151.21 339.2,149.87 339.7,148.52 340.2,147.17 340.7,145.82 341.2,144.47 341.7,143.12 342.2,141.78 342.7,140.43 343.2,139.09 343.7,137.75 344.2,136.41 344.7,135.07 345.2,133.74 345.7,132.41 346.2,131.09 346.7,129.77 347.2,128.45 347.7,127.14 348.2,125.83 348.7,124.53 349.2,123.24 349.7,121.94 350.2,120.66 350.7,119.38 351.2,118.11 351.7,116.84 352.2,115.58 352.7,114.33 353.2,113.08 353.7,111.84 354.2,110.61 354.7,109.39 355.2,108.17"/>
<polyline fill="none" stroke="#ff0000" stroke-width="1.5" stroke-linecap="round" stroke-linejoin="round" points="107.2,240.42 107.7,240.41 108.2,240.41 108.7,240.40 109.2,240.39 109.7,240.38 110.2,240.37 110.7,240.37 111.2,240.36 111.7,240.35 112.2,240.34 112.7,240.34 113.2,240.33 113.7,240.32 114.2,240.32 114.7,240.31 115.2,240.31 115.7,240.30 116.2,240.30 116.7,240.29 117.2,240.29 117.7,240.28 118.2,240.28 118.7,240.27 119.2,240.27 119.7,240.27 120.2,240.26 120.7,240.26 121.2,240.26 121.7,240.25 122.2,240.25 122.7,240.25 123.2,240.25 123.7,240.24 124.2,240.24 124.7,240.24 125.2,240.24 125.7,240.24 126.2,240.24 126.7,240.24 127.2,240.23 127.7,240.23 128.2,240.23 128.7,240.23 129.2,240.23 129.7,240.23 130.2,240.23 130.7,240.23 131.2,240.23 131.7,240.23 132.2,240.23 132.7,240.23 133.2,240.23 133.7,240.23 134.2,240.23 134.7,240.24 135.2,240.24 135.7,240.24 136.2,240.24 136.7,240.24 137.2,240.24 137.7,240.24 138.2,240.25 138.7,240.25 139.2,240.25 139.7,240.25 140.2,240.25 140.7,240.26 141.2,240.26 141.7,240.26 142.2,240.26 142.7,240.27 143.2,240.27 143.7,240.27 144.2,240.27 144.7,240.28 145.2,240.28 145.7,240.28 146.2,240.28 146.7,240.29 147.2,240.29 147.7,240.29 148.2,240.30 148.7,240.30 149.2,240.30 149.7,240.31 150.2,240.31 150.7,240.31 151.2,240.31 151.7,240.32 152.2,240.32 152.7,240.32 153.2,240.33 153.7,240.33 154.2,240.33 154.7,240.34 155.2,240.34 155.7,240.34 156.2,240.35 156.7,240.35 157.2,240.35 157.7,240.36 158.2,240.36 158.7,240.36 159.2,240.37 159.7,240.37 160.2,240.37 160.7,240.38 161.2,240.38 161.7,240.38 162.2,240.38 162.7,240.39 163.2,240.39 163.7,240.39 164.2,240.40 164.7,240.40 165.2,240.40 165.7,240.40 166.2,240.41 166.7,240.41 167.2,240.41 167.7,240.41 168.2,240.41 168.7,240.42 169.2,240.42 169.7,240.42 170.2,240.42 170.7,240.42 171.2,240.43 171.7,240.43 172.2,240.43 172.7,240.43 173.2,240.43 173.7,240.43 174.2,240.43 174.7,240.43 175.2,240.43 175.7,240.43 176.2,240.43 176.7,240.44 177.2,240.44 177.7,240.44 178.2,240.44 178.7,240.44 179.2,240.43 179.7,240.43 180.2,240.43 180.7,240.43 181.2,240.43 181.7,240.43 182.2,240.43 182.7,240.43 183.2,240.43 183.7,240.42 184.2,240.42 184.7,240.42 185.2,240.42 185.7,240.41 186.2,240.41 186.7,240.41 187.2,240.41 187.7,240.40 188.2,240.40 188.7,240.40 189.2,240.39 189.7,240.39 190.2,240.38 190.7,240.38 191.2,240.37 191.7,240.37 192.2,240.36 192.7,240.36 193.2,240.35 193.7,240.35 194.2,240.34 194.7,240.33 195.2,240.33 195.7,240.32 196.2,240.31 196.7,240.31 197.2,240.30 197.7,240.29 198.2,240.28 198.7,240.27 199.2,240.27 199.7,240.26 200.2,240.25 200.7,240.24 201.2,240.23 201.7,240.22 202.2,240.21 202.7,240.20 203.2,240.19 203.7,240.18 204.2,240.17 204.7,240.15 205.2,240.14 205.7,240.13 206.2,240.12 206.7,240.11 207.2,240.09 207.7,240.08 208.2,240.07 208.7,240.05 209.2,240.04 209.7,240.02 210.2,240.01 210.7,239.99 211.2,239.98 211.7,239.96 212.2,239.95 212.7,239.93 213.2,239.91 213.7,239.89 214.2,239.88 214.7,239.86 215.2,239.84 215.7,239.82 216.2,239.80 216.7,239.78 217.2,239.77 217.7,239.75 218.2,239.73 218.7,239.70 219.2,239.68 219.7,239.66 220.2,239.64 220.7,239.62 221.2,239.60 221.7,239.57 222.2,239.55 222.7,239.53 223.2,239.50 223.7,239.48 224.2,239.45 224.7,239.43 225.2,239.40 225.7,239.38 226.2,239.35 226.7,239.32 227.2,239.30 227.7,239.27 228.2,239.24 228.7,239.21 229.2,239.18 229.7,239.15 230.2,239.11 230.7,239.08 231.2,239.05 231.7,239.01 232.2,238.98 232.7,238.94 233.2,238.90 233.7,238.87 234.2,238.83 234.7,238.79 235.2,238.74 235.7,238.70 236.2,238.66 236.7,238.61 237.2,238.57 237.7,238.52 238.2,238.47 238.7,238.42 239.2,238.37 239.7,238.32 240.2,238.27 240.7,238.21 241.2,238.16 241.7,238.10 242.2,238.04 242.7,237.98 243.2,237.92 243.7,237.86 244.2,237.79 244.7,237.72 245.2,237.66 245.7,237.58 246.2,237.51 246.7,237.44 247.2,237.36 247.7,237.29 248.2,237.21 248.7,237.13 249.2,237.04 249.7,236.96 250.2,236.87 250.7,236.78 251.2,236.69 251.7,236.60 252.2,236.50 252.7,236.40 253.2,236.30 253.7,236.20 254.2,236.09 254.7,235.99 255.2,235.87 255.7,235.76 256.2,235.65 256.7,235.53 257.2,235.41 257.7,235.28 258.2,235.16 258.7,235.03 259.2,234.90 259.7,234.76 260.2,234.63 260.7,234.48 261.2,234.34 261.7,234.19 262.2,234.04 262.7,233.89 263.2,233.73 263.7,233.57 264.2,233.41 264.7,233.24 265.2,233.07 265.7,232.89 266.2,232.71 266.7,232.53 267.2,232.34 267.7,232.15 268.2,231.95 268.7,231.75 269.2,231.55 269.7,231.34 270.2,231.13 270.7,230.91 271.2,230.69 271.7,230.46 272.2,230.23 272.7,229.99 273.2,229.75 273.7,229.50 274.2,229.25 274.7,228.99 275.2,228.73 275.7,228.46 276.2,228.19 276.7,227.91 277.2,227.62 277.7,227.33 278.2,227.04 278.7,226.74 279.2,226.43 279.7,226.12 280.2,225.80 280.7,225.47 281.2,225.14 281.7,224.80 282.2,224.46 282.7,224.11 283.2,223.75 283.7,223.39 284.2,223.02 284.7,222.65 285.2,222.26 285.7,221.87 286.2,221.48 286.7,221.07 287.2,220.66 287.7,220.25 288.2,219.82 288.7,219.39 289.2,218.96 289.7,218.51 290.2,218.06 290.7,217.60 291.2,217.13 291.7,216.65 292.2,216.17 292.7,215.68 293.2,215.18 293.7,214.67 294.2,214.16 294.7,213.64 295.2,213.10 295.7,212.56 296.2,212.02 296.7,211.46 297.2,210.90 297.7,210.32 298.2,209.74 298.7,209.15 299.2,208.55 299.7,207.94 300.2,207.32 300.7,206.70 301.2,206.06 301.7,205.41 302.2,204.76 302.7,204.09 303.2,203.42 303.7,202.74 304.2,202.04 304.7,201.34 305.2,200.62 305.7,199.90 306.2,199.17 306.7,198.42 307.2,197.67 307.7,196.90 308.2,196.13 308.7,195.34 309.2,194.54 309.7,193.74 310.2,192.92 310.7,192.09 311.2,191.25 311.7,190.40 312.2,189.54 312.7,188.66 313.2,187.78 313.7,186.89 314.2,185.98 314.7,185.06 315.2,184.13 315.7,183.19 316.2,182.24 316.7,181.28 317.2,180.31 317.7,179.32 318.2,178.32 318.7,177.32 319.2,176.30 319.7,175.27 320.2,174.23 320.7,173.18 321.2,172.12 321.7,171.05 322.2,169.96 322.7,168.87 323.2,167.77 323.7,166.66 324.2,165.54 324.7,164.40 325.2,163.27 325.7,162.12 326.2,160.96 326.7,159.80 327.2,158.62 327.7,157.44 328.2,156.26 328.7,155.07 329.2,153.87 329.7,152.67 330.2,151.46 330.7,150.25 331.2,149.03 331.7,147.82 332.2,146.60 332.7,145.38 333.2,144.15 333.7,142.93 334.2,141.71 334.7,140.48 335.2,139.26 335.7,138.03 336.2,136.81 336.7,135.59 337.2,134.37 337.7,133.15 338.2,131.94 338.7,130.72 339.2,129.51 339.7,128.31 340.2,127.10 340.7,125.91 341.2,124.71 341.7,123.52 342.2,122.34 342.7,121.16 343.2,119.98 343.7,118.81 344.2,117.65 344.7,116.49 345.2,115.34 345.7,114.20 346.2,113.06 346.7,111.92 347.2,110.80 347.7,109.68 348.2,108.56 348.7,107.46 349.2,106.35 349.7,105.26 350.2,104.17 350.7,103.09 351.2,102.01 351.7,100.94 352.2,99.88 352.7,98.82 353.2,97.77 353.7,96.73 354.2,95.69 354.7,94.65 355.2,93.63"/>
<polyline fill="none" stroke="#000000" stroke-width="1.5" stroke-linecap="round" stroke-linejoin="round" points="107.2,234.64 107.7,234.66 108.2,234.69 108.7,234.71 109.2,234.73 109.7,234.75 110.2,234.77 110.7,234.79 111.2,234.81 111.7,234.83 112.2,234.85 112.7,234.87 113.2,234.88 113.7,234.90 114.2,234.91 114.7,234.93 115.2,234.95 115.7,234.96 116.2,234.97 116.7,234.99 117.2,235.00 117.7,235.01 118.2,235.03 118.7,235.04 119.2,235.05 119.7,235.06 120.2,235.07 120.7,235.08 121.2,235.09 121.7,235.10 122.2,235.11 122.7,235.12 123.2,235.13 123.7,235.13 124.2,235.14 124.7,235.15 125.2,235.16 125.7,235.16 126.2,235.17 126.7,235.18 127.2,235.18 127.7,235.19 128.2,235.20 128.7,235.20 129.2,235.21 129.7,235.21 130.2,235.22 130.7,235.22 131.2,235.23 131.7,235.23 132.2,235.23 132.7,235.24 133.2,235.24 133.7,235.25 134.2,235.25 134.7,235.25 135.2,235.26 135.7,235.26 136.2,235.27 136.7,235.27 137.2,235.27 137.7,235.28 138.2,235.28 138.7,235.28 139.2,235.29 139.7,235.29 140.2,235.29 140.7,235.30 141.2,235.30 141.7,235.30 142.2,235.31 142.7,235.31 143.2,235.31 143.7,235.32 144.2,235.32 144.7,235.32 145.2,235.33 145.7,235.33 146.2,235.34 146.7,235.34 147.2,235.35 147.7,235.35 148.2,235.36 148.7,235.36 149.2,235.37 149.7,235.37 150.2,235.38 150.7,235.38 151.2,235.39 151.7,235.39 152.2,235.40 152.7,235.41 153.2,235.41 153.7,235.42 154.2,235.43 154.7,235.44 155.2,235.45 155.7,235.45 156.2,235.46 156.7,235.47 157.2,235.48 157.7,235.49 158.2,235.50 158.7,235.51 159.2,235.52 159.7,235.53 160.2,235.54 160.7,235.56 161.2,235.57 161.7,235.58 162.2,235.59 162.7,235.61 163.2,235.62 163.7,235.64 164.2,235.65 164.7,235.67 165.2,235.68 165.7,235.70 166.2,235.72 166.7,235.73 167.2,235.75 167.7,235.77 168.2,235.79 168.7,235.81 169.2,235.83 169.7,235.85 170.2,235.87 170.7,235.89 171.2,235.92 171.7,235.94 172.2,235.96 172.7,235.99 173.2,236.01 173.7,236.04 174.2,236.06 174.7,236.09 175.2,236.12 175.7,236.15 176.2,236.18 176.7,236.21 177.2,236.24 177.7,236.27 178.2,236.30 178.7,236.33 179.2,236.37 179.7,236.40 180.2,236.44 180.7,236.47 181.2,236.51 181.7,236.55 182.2,236.59 182.7,236.62 183.2,236.66 183.7,236.71 184.2,236.75 184.7,236.79 185.2,236.83 185.7,236.88 186.2,236.92 186.7,236.97 187.2,237.02 187.7,237.07 188.2,237.12 188.7,237.17 189.2,237.22 189.7,237.27 190.2,237.32 190.7,237.38 191.2,237.43 191.7,237.49 192.2,237.55 192.7,237.61 193.2,237.66 193.7,237.73 194.2,237.79 194.7,237.85 195.2,237.91 195.7,237.98 196.2,238.05 196.7,238.11 197.2,238.18 197.7,238.25 198.2,238.32 198.7,238.40 199.2,238.47 199.7,238.54 200.2,238.62 200.7,238.70 201.2,238.78 201.7,238.86 202.2,238.94 202.7,239.02 203.2,239.11 203.7,239.19 204.2,239.28 204.7,239.37 205.2,239.46 205.7,239.55 206.2,239.64 206.7,239.73 207.2,239.83 207.7,239.92 208.2,240.02 208.7,240.12 209.2,240.22 209.7,240.33 210.2,240.43 210.7,240.54 211.2,240.64 211.7,240.75 212.2,240.86 212.7,240.98 213.2,241.09 213.7,241.21 214.2,241.32 214.7,241.44 215.2,241.56 215.7,241.69 216.2,241.81 216.7,241.94 217.2,242.06 217.7,242.19 218.2,242.32 218.7,242.46 219.2,242.59 219.7,242.73 220.2,242.87 220.7,243.01 221.2,243.15 221.7,243.30 222.2,243.44 222.7,243.59 223.2,243.74 223.7,243.89 224.2,244.05 224.7,244.20 225.2,244.36 225.7,244.52 226.2,244.68 226.7,244.85 227.2,245.01 227.7,245.18 228.2,245.35 228.7,245.52 229.2,245.69 229.7,245.86 230.2,246.04 230.7,246.21 231.2,246.39 231.7,246.57 232.2,246.75 232.7,246.93 233.2,247.12 233.7,247.30 234.2,247.49 234.7,247.68 235.2,247.87 235.7,248.06 236.2,248.25 236.7,248.44 237.2,248.63 237.7,248.83 238.2,249.02 238.7,249.22 239.2,249.42 239.7,249.62 240.2,249.82 240.7,250.02 241.2,250.22 241.7,250.42 242.2,250.62 242.7,250.83 243.2,251.03 243.7,251.24 244.2,251.44 244.7,251.65 245.2,251.85 245.7,252.06 246.2,252.27 246.7,252.48 247.2,252.69 247.7,252.89 248.2,253.10 248.7,253.31 249.2,253.52 249.7,253.73 250.2,253.94 250.7,254.15 251.2,254.36 251.7,254.57 252.2,254.78 252.7,255.00 253.2,255.21 253.7,255.42 254.2,255.63 254.7,255.84 255.2,256.05 255.7,256.26 256.2,256.47 256.7,256.68 257.2,256.88 257.7,257.09 258.2,257.30 258.7,257.51 259.2,257.72 259.7,257.92 260.2,258.13 260.7,258.34 261.2,258.54 261.7,258.75 262.2,258.95 262.7,259.16 263.2,259.36 263.7,259.56 264.2,259.76 264.7,259.96 265.2,260.16 265.7,260.36 266.2,260.56 266.7,260.75 267.2,260.95 267.7,261.14 268.2,261.33 268.7,261.52 269.2,261.71 269.7,261.90 270.2,262.08 270.7,262.27 271.2,262.45 271.7,262.63 272.2,262.80 272.7,262.98 273.2,263.15 273.7,263.32 274.2,263.49 274.7,263.65 275.2,263.81 275.7,263.97 276.2,264.13 276.7,264.29 277.2,264.44 277.7,264.59 278.2,264.73 278.7,264.87 279.2,265.01 279.7,265.15 280.2,265.28 280.7,265.41 281.2,265.54 281.7,265.66 282.2,265.78 282.7,265.89 283.2,266.00 283.7,266.11 284.2,266.21 284.7,266.31 285.2,266.40 285.7,266.49 286.2,266.58 286.7,266.66 287.2,266.74 287.7,266.81 288.2,266.88 288.7,266.94 289.2,267.00 289.7,267.05 290.2,267.10 290.7,267.14 291.2,267.18 291.7,267.22 292.2,267.24 292.7,267.26 293.2,267.28 293.7,267.29 294.2,267.30 294.7,267.30 295.2,267.29 295.7,267.28 296.2,267.26 296.7,267.23 297.2,267.20 297.7,267.16 298.2,267.12 298.7,267.07 299.2,267.01 299.7,266.95 300.2,266.88 300.7,266.81 301.2,266.72 301.7,266.64 302.2,266.54 302.7,266.44 303.2,266.34 303.7,266.22 304.2,266.10 304.7,265.98 305.2,265.84 305.7,265.70 306.2,265.56 306.7,265.40 307.2,265.24 307.7,265.08 308.2,264.90 308.7,264.72 309.2,264.53 309.7,264.33 310.2,264.13 310.7,263.92 311.2,263.70 311.7,263.47 312.2,263.24 312.7,262.99 313.2,262.74 313.7,262.48 314.2,262.21 314.7,261.93 315.2,261.65 315.7,261.35 316.2,261.04 316.7,260.73 317.2,260.40 317.7,260.06 318.2,259.71 318.7,259.36 319.2,258.99 319.7,258.60 320.2,258.21 320.7,257.81 321.2,257.39 321.7,256.96 322.2,256.52 322.7,256.07 323.2,255.60 323.7,255.12 324.2,254.63 324.7,254.13 325.2,253.60 325.7,253.07 326.2,252.52 326.7,251.95 327.2,251.37 327.7,250.78 328.2,250.16 328.7,249.53 329.2,248.88 329.7,248.21 330.2,247.53 330.7,246.82 331.2,246.09 331.7,245.34 332.2,244.57 332.7,243.78 333.2,242.96 333.7,242.11 334.2,241.24 334.7,240.35 335.2,239.43 335.7,238.47 336.2,237.49 336.7,236.48 337.2,235.44 337.7,234.37 338.2,233.27 338.7,232.13 339.2,230.96 339.7,229.76 340.2,228.53 340.7,227.27 341.2,225.97 341.7,224.64 342.2,223.28 342.7,221.90 343.2,220.49 343.7,219.05 344.2,217.59 344.7,216.12 345.2,214.64 345.7,213.14 346.2,211.65 346.7,210.15 347.2,208.66 347.7,207.18 348.2,205.71 348.7,204.27 349.2,202.84 349.7,201.45 350.2,200.08 350.7,198.75 351.2,197.45 351.7,196.19 352.2,194.97 352.7,193.78 353.2,192.64 353.7,191.53 354.2,190.47 354.7,189.44 355.2,188.45"/>
</g>
<rect x="97.3" y="97.2" width="268.1" height="196.8" fill="none" stroke="#000" stroke-width="1.35"/>
<line x1="97.3" y1="286.7" x2="97.3" y2="104.5" stroke="#000" stroke-width="1.35"/>
<line x1="85.3" y1="286.7" x2="97.3" y2="286.7" stroke="#000" stroke-width="1.35"/>
<line x1="85.3" y1="260.7" x2="97.3" y2="260.7" stroke="#000" stroke-width="1.35"/>
<line x1="85.3" y1="234.6" x2="97.3" y2="234.6" stroke="#000" stroke-width="1.35"/>
<line x1="85.3" y1="208.6" x2="97.3" y2="208.6" stroke="#000" stroke-width="1.35"/>
<line x1="85.3" y1="182.6" x2="97.3" y2="182.6" stroke="#000" stroke-width="1.35"/>
<line x1="85.3" y1="156.6" x2="97.3" y2="156.6" stroke="#000" stroke-width="1.35"/>
<line x1="85.3" y1="130.5" x2="97.3" y2="130.5" stroke="#000" stroke-width="1.35"/>
<line x1="85.3" y1="104.5" x2="97.3" y2="104.5" stroke="#000" stroke-width="1.35"/>
<text transform="translate(68.6,287.3) rotate(-90)" text-anchor="middle" font-size="19.92">0.8</text>
<text transform="translate(68.6,235.2) rotate(-90)" text-anchor="middle" font-size="19.92">1.0</text>
<text transform="translate(68.6,183.2) rotate(-90)" text-anchor="middle" font-size="19.92">1.2</text>
<text transform="translate(68.6,131.1) rotate(-90)" text-anchor="middle" font-size="19.92">1.4</text>
<line x1="96.7" y1="286.9" x2="366.0" y2="286.9" stroke="#bebebe" stroke-width="1.35"/>
<rect x="97.3" y="97.2" width="139.7" height="113.8" fill="#fff" stroke="#000" stroke-width="1.35"/>
<line x1="107.2" y1="111.2" x2="129.9" y2="111.2" stroke="#ff00ff" stroke-width="1.5"/>
<text x="140" y="115.2" font-size="11.5">bxz = 0.2</text>
<line x1="107.2" y1="125.4" x2="129.9" y2="125.4" stroke="#00ffff" stroke-width="1.5"/>
<text x="140" y="129.4" font-size="11.5">bxz = 0.5</text>
<line x1="107.2" y1="139.6" x2="129.9" y2="139.6" stroke="#0000ff" stroke-width="1.5"/>
<text x="140" y="143.6" font-size="11.5">bxz = 1</text>
<line x1="107.2" y1="153.8" x2="129.9" y2="153.8" stroke="#00cd00" stroke-width="1.5"/>
<text x="140" y="157.8" font-size="11.5">bxz = 2</text>
<line x1="107.2" y1="168.0" x2="129.9" y2="168.0" stroke="#ff0000" stroke-width="1.5"/>
<text x="140" y="172.0" font-size="11.5">bxz = 5</text>
<line x1="107.2" y1="182.2" x2="129.9" y2="182.2" stroke="#000000" stroke-width="1.5"/>
<text x="140" y="186.2" font-size="11.5">Ridge Regression</text>
<line x1="107.2" y1="196.4" x2="129.9" y2="196.4" stroke="#bebebe" stroke-width="1.5"/>
<text x="140" y="200.4" font-size="11.5">Bayes Error</text>
<text x="230.9" y="383.6" text-anchor="middle" font-size="19.92" textLength="96.4" lengthAdjust="spacing">Complexity</text>
<text transform="translate(22.3,195.3) rotate(-90)" text-anchor="middle" font-size="19.92" textLength="330.6" lengthAdjust="spacing">Error Relative to Ordinary Regression</text>
<!-- right panel -->
<g clip-path="url(#cr)">
<polyline fill="none" stroke="#ff00ff" stroke-width="1.5" stroke-linecap="round" stroke-linejoin="round" points="522.2,228.13 522.7,228.12 523.2,228.10 523.7,228.08 524.2,228.06 524.7,228.04 525.2,228.03 525.7,228.01 526.2,227.99 526.7,227.97 527.2,227.96 527.7,227.94 528.2,227.92 528.7,227.91 529.2,227.89 529.7,227.87 530.2,227.86 530.7,227.84 531.2,227.82 531.7,227.81 532.2,227.79 532.7,227.77 533.2,227.76 533.7,227.74 534.2,227.72 534.7,227.71 535.2,227.69 535.7,227.67 536.2,227.66 536.7,227.64 537.2,227.62 537.7,227.60 538.2,227.59 538.7,227.57 539.2,227.55 539.7,227.53 540.2,227.51 540.7,227.49 541.2,227.47 541.7,227.45 542.2,227.43 542.7,227.41 543.2,227.39 543.7,227.37 544.2,227.35 544.7,227.33 545.2,227.31 545.7,227.29 546.2,227.26 546.7,227.24 547.2,227.22 547.7,227.19 548.2,227.17 548.7,227.14 549.2,227.12 549.7,227.09 550.2,227.06 550.7,227.03 551.2,227.01 551.7,226.98 552.2,226.95 552.7,226.92 553.2,226.89 553.7,226.86 554.2,226.83 554.7,226.79 555.2,226.76 555.7,226.73 556.2,226.69 556.7,226.66 557.2,226.62 557.7,226.58 558.2,226.55 558.7,226.51 559.2,226.47 559.7,226.43 560.2,226.39 560.7,226.35 561.2,226.30 561.7,226.26 562.2,226.22 562.7,226.17 563.2,226.12 563.7,226.08 564.2,226.03 564.7,225.98 565.2,225.93 565.7,225.88 566.2,225.83 566.7,225.77 567.2,225.72 567.7,225.66 568.2,225.61 568.7,225.55 569.2,225.49 569.7,225.43 570.2,225.37 570.7,225.31 571.2,225.24 571.7,225.18 572.2,225.11 572.7,225.05 573.2,224.98 573.7,224.91 574.2,224.84 574.7,224.77 575.2,224.70 575.7,224.63 576.2,224.55 576.7,224.48 577.2,224.40 577.7,224.32 578.2,224.25 578.7,224.17 579.2,224.09 579.7,224.01 580.2,223.92 580.7,223.84 581.2,223.76 581.7,223.67 582.2,223.58 582.7,223.50 583.2,223.41 583.7,223.32 584.2,223.23 584.7,223.14 585.2,223.05 585.7,222.95 586.2,222.86 586.7,222.76 587.2,222.67 587.7,222.57 588.2,222.47 588.7,222.37 589.2,222.27 589.7,222.17 590.2,222.07 590.7,221.96 591.2,221.86 591.7,221.75 592.2,221.64 592.7,221.54 593.2,221.42 593.7,221.31 594.2,221.20 594.7,221.08 595.2,220.97 595.7,220.85 596.2,220.73 596.7,220.61 597.2,220.48 597.7,220.36 598.2,220.23 598.7,220.10 599.2,219.97 599.7,219.83 600.2,219.70 600.7,219.56 601.2,219.42 601.7,219.28 602.2,219.13 602.7,218.99 603.2,218.84 603.7,218.68 604.2,218.53 604.7,218.37 605.2,218.21 605.7,218.05 606.2,217.88 606.7,217.72 607.2,217.54 607.7,217.37 608.2,217.19 608.7,217.01 609.2,216.83 609.7,216.64 610.2,216.45 610.7,216.26 611.2,216.06 611.7,215.86 612.2,215.65 612.7,215.44 613.2,215.23 613.7,215.01 614.2,214.79 614.7,214.57 615.2,214.34 615.7,214.10 616.2,213.87 616.7,213.62 617.2,213.38 617.7,213.13 618.2,212.87 618.7,212.61 619.2,212.35 619.7,212.08 620.2,211.81 620.7,211.54 621.2,211.26 621.7,210.97 622.2,210.68 622.7,210.39 623.2,210.09 623.7,209.79 624.2,209.49 624.7,209.18 625.2,208.86 625.7,208.55 626.2,208.22 626.7,207.90 627.2,207.57 627.7,207.23 628.2,206.90 628.7,206.55 629.2,206.21 629.7,205.86 630.2,205.50 630.7,205.14 631.2,204.78 631.7,204.41 632.2,204.04 632.7,203.67 633.2,203.29 633.7,202.90 634.2,202.52 634.7,202.13 635.2,201.73 635.7,201.33 636.2,200.93 636.7,200.52 637.2,200.12 637.7,199.70 638.2,199.28 638.7,198.86 639.2,198.44 639.7,198.01 640.2,197.58 640.7,197.15 641.2,196.71 641.7,196.27 642.2,195.82 642.7,195.37 643.2,194.92 643.7,194.46 644.2,194.01 644.7,193.55 645.2,193.08 645.7,192.61 646.2,192.14 646.7,191.67 647.2,191.19 647.7,190.71 648.2,190.23 648.7,189.75 649.2,189.26 649.7,188.77 650.2,188.28 650.7,187.79 651.2,187.29 651.7,186.79 652.2,186.29 652.7,185.79 653.2,185.28 653.7,184.78 654.2,184.27 654.7,183.76 655.2,183.25 655.7,182.73 656.2,182.22 656.7,181.70 657.2,181.18 657.7,180.66 658.2,180.14 658.7,179.62 659.2,179.10 659.7,178.58 660.2,178.05 660.7,177.53 661.2,177.01 661.7,176.48 662.2,175.96 662.7,175.43 663.2,174.91 663.7,174.38 664.2,173.86 664.7,173.34 665.2,172.82 665.7,172.30 666.2,171.79 666.7,171.27 667.2,170.76 667.7,170.25 668.2,169.74 668.7,169.24 669.2,168.74 669.7,168.24 670.2,167.74 670.7,167.25 671.2,166.76 671.7,166.28 672.2,165.80 672.7,165.32 673.2,164.85 673.7,164.38 674.2,163.92 674.7,163.46 675.2,163.00 675.7,162.55 676.2,162.10 676.7,161.66 677.2,161.22 677.7,160.79 678.2,160.36 678.7,159.94 679.2,159.52 679.7,159.11 680.2,158.70 680.7,158.30 681.2,157.90 681.7,157.51 682.2,157.12 682.7,156.73 683.2,156.36 683.7,155.99 684.2,155.62 684.7,155.26 685.2,154.90 685.7,154.55 686.2,154.21 686.7,153.87 687.2,153.54 687.7,153.21 688.2,152.89 688.7,152.57 689.2,152.26 689.7,151.96 690.2,151.66 690.7,151.37 691.2,151.09 691.7,150.81 692.2,150.54 692.7,150.27 693.2,150.01 693.7,149.76 694.2,149.51 694.7,149.27 695.2,149.04 695.7,148.81 696.2,148.60 696.7,148.38 697.2,148.18 697.7,147.98 698.2,147.79 698.7,147.60 699.2,147.43 699.7,147.26 700.2,147.09 700.7,146.94 701.2,146.79 701.7,146.65 702.2,146.52 702.7,146.39 703.2,146.27 703.7,146.16 704.2,146.06 704.7,145.97 705.2,145.88 705.7,145.81 706.2,145.74 706.7,145.67 707.2,145.62 707.7,145.58 708.2,145.54 708.7,145.51 709.2,145.49 709.7,145.48 710.2,145.48 710.7,145.49 711.2,145.50 711.7,145.53 712.2,145.56 712.7,145.61 713.2,145.66 713.7,145.72 714.2,145.79 714.7,145.86 715.2,145.95 715.7,146.04 716.2,146.14 716.7,146.25 717.2,146.37 717.7,146.49 718.2,146.63 718.7,146.77 719.2,146.92 719.7,147.07 720.2,147.24 720.7,147.41 721.2,147.59 721.7,147.77 722.2,147.97 722.7,148.17 723.2,148.38 723.7,148.60 724.2,148.82 724.7,149.06 725.2,149.30 725.7,149.55 726.2,149.81 726.7,150.07 727.2,150.35 727.7,150.63 728.2,150.92 728.7,151.22 729.2,151.52 729.7,151.84 730.2,152.16 730.7,152.50 731.2,152.84 731.7,153.19 732.2,153.55 732.7,153.92 733.2,154.31 733.7,154.70 734.2,155.10 734.7,155.52 735.2,155.94 735.7,156.38 736.2,156.83 736.7,157.28 737.2,157.75 737.7,158.22 738.2,158.70 738.7,159.19 739.2,159.69 739.7,160.19 740.2,160.70 740.7,161.21 741.2,161.72 741.7,162.24 742.2,162.77 742.7,163.30 743.2,163.84 743.7,164.39 744.2,164.94 744.7,165.49 745.2,166.06 745.7,166.63 746.2,167.21 746.7,167.80 747.2,168.40 747.7,169.01 748.2,169.63 748.7,170.26 749.2,170.90 749.7,171.55 750.2,172.22 750.7,172.90 751.2,173.59 751.7,174.30 752.2,175.02 752.7,175.76 753.2,176.52 753.7,177.30 754.2,178.09 754.7,178.89 755.2,179.70 755.7,180.53 756.2,181.36 756.7,182.20 757.2,183.04 757.7,183.88 758.2,184.72 758.7,185.56 759.2,186.39 759.7,187.22 760.2,188.04 760.7,188.85 761.2,189.64 761.7,190.42 762.2,191.18 762.7,191.93 763.2,192.66 763.7,193.37 764.2,194.07 764.7,194.75 765.2,195.40 765.7,196.04 766.2,196.66 766.7,197.26 767.2,197.84 767.7,198.40 768.2,198.94 768.7,199.47 769.2,199.98 769.7,200.47 770.2,200.95 770.7,201.40"/>
<polyline fill="none" stroke="#00ffff" stroke-width="1.5" stroke-linecap="round" stroke-linejoin="round" points="522.2,210.39 522.7,210.38 523.2,210.38 523.7,210.37 524.2,210.36 524.7,210.36 525.2,210.35 525.7,210.34 526.2,210.33 526.7,210.33 527.2,210.32 527.7,210.31 528.2,210.31 528.7,210.30 529.2,210.29 529.7,210.28 530.2,210.28 530.7,210.27 531.2,210.26 531.7,210.26 532.2,210.25 532.7,210.24 533.2,210.23 533.7,210.23 534.2,210.22 534.7,210.21 535.2,210.20 535.7,210.19 536.2,210.19 536.7,210.18 537.2,210.17 537.7,210.16 538.2,210.15 538.7,210.14 539.2,210.13 539.7,210.12 540.2,210.11 540.7,210.10 541.2,210.09 541.7,210.08 542.2,210.07 542.7,210.06 543.2,210.05 543.7,210.04 544.2,210.03 544.7,210.01 545.2,210.00 545.7,209.99 546.2,209.98 546.7,209.96 547.2,209.95 547.7,209.93 548.2,209.92 548.7,209.90 549.2,209.89 549.7,209.87 550.2,209.86 550.7,209.84 551.2,209.82 551.7,209.80 552.2,209.79 552.7,209.77 553.2,209.75 553.7,209.73 554.2,209.71 554.7,209.69 555.2,209.67 555.7,209.64 556.2,209.62 556.7,209.60 557.2,209.58 557.7,209.55 558.2,209.53 558.7,209.50 559.2,209.48 559.7,209.45 560.2,209.42 560.7,209.40 561.2,209.37 561.7,209.34 562.2,209.31 562.7,209.28 563.2,209.25 563.7,209.22 564.2,209.18 564.7,209.15 565.2,209.12 565.7,209.08 566.2,209.05 566.7,209.01 567.2,208.98 567.7,208.94 568.2,208.90 568.7,208.86 569.2,208.82 569.7,208.78 570.2,208.74 570.7,208.70 571.2,208.65 571.7,208.61 572.2,208.56 572.7,208.52 573.2,208.47 573.7,208.42 574.2,208.38 574.7,208.33 575.2,208.28 575.7,208.22 576.2,208.17 576.7,208.12 577.2,208.06 577.7,208.01 578.2,207.95 578.7,207.90 579.2,207.84 579.7,207.78 580.2,207.72 580.7,207.66 581.2,207.59 581.7,207.53 582.2,207.47 582.7,207.40 583.2,207.34 583.7,207.27 584.2,207.20 584.7,207.13 585.2,207.06 585.7,206.99 586.2,206.91 586.7,206.84 587.2,206.76 587.7,206.68 588.2,206.61 588.7,206.53 589.2,206.45 589.7,206.36 590.2,206.28 590.7,206.20 591.2,206.11 591.7,206.03 592.2,205.94 592.7,205.85 593.2,205.76 593.7,205.67 594.2,205.57 594.7,205.48 595.2,205.38 595.7,205.28 596.2,205.19 596.7,205.09 597.2,204.98 597.7,204.88 598.2,204.78 598.7,204.67 599.2,204.56 599.7,204.45 600.2,204.34 600.7,204.23 601.2,204.12 601.7,204.01 602.2,203.89 602.7,203.77 603.2,203.65 603.7,203.53 604.2,203.41 604.7,203.28 605.2,203.16 605.7,203.03 606.2,202.90 606.7,202.77 607.2,202.64 607.7,202.50 608.2,202.37 608.7,202.23 609.2,202.09 609.7,201.95 610.2,201.80 610.7,201.66 611.2,201.51 611.7,201.36 612.2,201.21 612.7,201.05 613.2,200.90 613.7,200.74 614.2,200.58 614.7,200.42 615.2,200.25 615.7,200.09 616.2,199.92 616.7,199.75 617.2,199.57 617.7,199.40 618.2,199.22 618.7,199.04 619.2,198.86 619.7,198.67 620.2,198.49 620.7,198.30 621.2,198.10 621.7,197.91 622.2,197.71 622.7,197.51 623.2,197.31 623.7,197.10 624.2,196.89 624.7,196.68 625.2,196.47 625.7,196.25 626.2,196.03 626.7,195.81 627.2,195.58 627.7,195.35 628.2,195.12 628.7,194.88 629.2,194.64 629.7,194.40 630.2,194.15 630.7,193.91 631.2,193.65 631.7,193.40 632.2,193.14 632.7,192.87 633.2,192.61 633.7,192.33 634.2,192.06 634.7,191.78 635.2,191.50 635.7,191.21 636.2,190.92 636.7,190.62 637.2,190.32 637.7,190.02 638.2,189.71 638.7,189.39 639.2,189.07 639.7,188.75 640.2,188.42 640.7,188.09 641.2,187.75 641.7,187.41 642.2,187.06 642.7,186.70 643.2,186.34 643.7,185.97 644.2,185.60 644.7,185.23 645.2,184.85 645.7,184.46 646.2,184.07 646.7,183.67 647.2,183.27 647.7,182.87 648.2,182.46 648.7,182.05 649.2,181.64 649.7,181.22 650.2,180.79 650.7,180.37 651.2,179.94 651.7,179.51 652.2,179.08 652.7,178.64 653.2,178.20 653.7,177.76 654.2,177.32 654.7,176.88 655.2,176.43 655.7,175.99 656.2,175.54 656.7,175.10 657.2,174.65 657.7,174.20 658.2,173.76 658.7,173.31 659.2,172.87 659.7,172.42 660.2,171.98 660.7,171.54 661.2,171.10 661.7,170.66 662.2,170.23 662.7,169.80 663.2,169.36 663.7,168.94 664.2,168.51 664.7,168.08 665.2,167.66 665.7,167.24 666.2,166.83 666.7,166.42 667.2,166.01 667.7,165.60 668.2,165.19 668.7,164.79 669.2,164.40 669.7,164.00 670.2,163.62 670.7,163.23 671.2,162.85 671.7,162.47 672.2,162.09 672.7,161.72 673.2,161.36 673.7,161.00 674.2,160.64 674.7,160.28 675.2,159.93 675.7,159.59 676.2,159.25 676.7,158.91 677.2,158.57 677.7,158.24 678.2,157.91 678.7,157.58 679.2,157.26 679.7,156.94 680.2,156.62 680.7,156.30 681.2,155.98 681.7,155.67 682.2,155.36 682.7,155.05 683.2,154.74 683.7,154.43 684.2,154.12 684.7,153.82 685.2,153.52 685.7,153.22 686.2,152.92 686.7,152.63 687.2,152.34 687.7,152.06 688.2,151.77 688.7,151.49 689.2,151.22 689.7,150.95 690.2,150.68 690.7,150.42 691.2,150.16 691.7,149.90 692.2,149.65 692.7,149.40 693.2,149.16 693.7,148.93 694.2,148.69 694.7,148.47 695.2,148.25 695.7,148.03 696.2,147.82 696.7,147.61 697.2,147.41 697.7,147.22 698.2,147.03 698.7,146.85 699.2,146.67 699.7,146.50 700.2,146.33 700.7,146.17 701.2,146.02 701.7,145.87 702.2,145.73 702.7,145.59 703.2,145.46 703.7,145.34 704.2,145.22 704.7,145.10 705.2,145.00 705.7,144.90 706.2,144.80 706.7,144.71 707.2,144.63 707.7,144.55 708.2,144.48 708.7,144.41 709.2,144.35 709.7,144.30 710.2,144.25 710.7,144.21 711.2,144.18 711.7,144.15 712.2,144.13 712.7,144.11 713.2,144.10 713.7,144.10 714.2,144.11 714.7,144.12 715.2,144.13 715.7,144.16 716.2,144.19 716.7,144.23 717.2,144.28 717.7,144.33 718.2,144.39 718.7,144.46 719.2,144.54 719.7,144.63 720.2,144.72 720.7,144.82 721.2,144.93 721.7,145.05 722.2,145.17 722.7,145.31 723.2,145.45 723.7,145.60 724.2,145.76 724.7,145.93 725.2,146.10 725.7,146.29 726.2,146.48 726.7,146.68 727.2,146.88 727.7,147.10 728.2,147.32 728.7,147.55 729.2,147.79 729.7,148.04 730.2,148.29 730.7,148.56 731.2,148.83 731.7,149.11 732.2,149.40 732.7,149.70 733.2,150.00 733.7,150.31 734.2,150.64 734.7,150.97 735.2,151.30 735.7,151.65 736.2,152.01 736.7,152.37 737.2,152.75 737.7,153.13 738.2,153.52 738.7,153.92 739.2,154.33 739.7,154.75 740.2,155.18 740.7,155.62 741.2,156.07 741.7,156.53 742.2,156.99 742.7,157.47 743.2,157.96 743.7,158.46 744.2,158.97 744.7,159.49 745.2,160.02 745.7,160.56 746.2,161.11 746.7,161.67 747.2,162.24 747.7,162.82 748.2,163.41 748.7,164.01 749.2,164.62 749.7,165.24 750.2,165.87 750.7,166.51 751.2,167.16 751.7,167.81 752.2,168.48 752.7,169.15 753.2,169.83 753.7,170.51 754.2,171.20 754.7,171.90 755.2,172.60 755.7,173.31 756.2,174.02 756.7,174.73 757.2,175.45 757.7,176.16 758.2,176.88 758.7,177.61 759.2,178.33 759.7,179.05 760.2,179.76 760.7,180.48 761.2,181.19 761.7,181.91 762.2,182.61 762.7,183.31 763.2,184.01 763.7,184.70 764.2,185.39 764.7,186.07 765.2,186.74 765.7,187.41 766.2,188.06 766.7,188.71 767.2,189.35 767.7,189.99 768.2,190.61 768.7,191.22 769.2,191.83 769.7,192.42 770.2,193.01 770.7,193.59"/>
<polyline fill="none" stroke="#0000ff" stroke-width="1.5" stroke-linecap="round" stroke-linejoin="round" points="522.2,195.62 522.7,195.62 523.2,195.61 523.7,195.60 524.2,195.59 524.7,195.59 525.2,195.58 525.7,195.57 526.2,195.56 526.7,195.56 527.2,195.55 527.7,195.54 528.2,195.54 528.7,195.53 529.2,195.53 529.7,195.52 530.2,195.51 530.7,195.51 531.2,195.50 531.7,195.49 532.2,195.49 532.7,195.48 533.2,195.48 533.7,195.47 534.2,195.47 534.7,195.46 535.2,195.45 535.7,195.45 536.2,195.44 536.7,195.44 537.2,195.43 537.7,195.42 538.2,195.42 538.7,195.41 539.2,195.40 539.7,195.40 540.2,195.39 540.7,195.38 541.2,195.38 541.7,195.37 542.2,195.36 542.7,195.36 543.2,195.35 543.7,195.34 544.2,195.34 544.7,195.33 545.2,195.32 545.7,195.31 546.2,195.30 546.7,195.29 547.2,195.29 547.7,195.28 548.2,195.27 548.7,195.26 549.2,195.25 549.7,195.24 550.2,195.23 550.7,195.22 551.2,195.21 551.7,195.20 552.2,195.19 552.7,195.17 553.2,195.16 553.7,195.15 554.2,195.14 554.7,195.12 555.2,195.11 555.7,195.10 556.2,195.08 556.7,195.07 557.2,195.05 557.7,195.04 558.2,195.02 558.7,195.01 559.2,194.99 559.7,194.98 560.2,194.96 560.7,194.94 561.2,194.92 561.7,194.90 562.2,194.89 562.7,194.87 563.2,194.85 563.7,194.83 564.2,194.81 564.7,194.78 565.2,194.76 565.7,194.74 566.2,194.72 566.7,194.69 567.2,194.67 567.7,194.64 568.2,194.62 568.7,194.59 569.2,194.57 569.7,194.54 570.2,194.51 570.7,194.49 571.2,194.46 571.7,194.43 572.2,194.40 572.7,194.37 573.2,194.34 573.7,194.30 574.2,194.27 574.7,194.24 575.2,194.21 575.7,194.17 576.2,194.14 576.7,194.10 577.2,194.06 577.7,194.03 578.2,193.99 578.7,193.95 579.2,193.91 579.7,193.87 580.2,193.83 580.7,193.79 581.2,193.74 581.7,193.70 582.2,193.66 582.7,193.61 583.2,193.57 583.7,193.52 584.2,193.47 584.7,193.42 585.2,193.37 585.7,193.32 586.2,193.27 586.7,193.22 587.2,193.17 587.7,193.12 588.2,193.06 588.7,193.01 589.2,192.95 589.7,192.89 590.2,192.83 590.7,192.78 591.2,192.72 591.7,192.65 592.2,192.59 592.7,192.53 593.2,192.47 593.7,192.40 594.2,192.34 594.7,192.27 595.2,192.20 595.7,192.13 596.2,192.06 596.7,191.99 597.2,191.92 597.7,191.85 598.2,191.77 598.7,191.70 599.2,191.62 599.7,191.54 600.2,191.46 600.7,191.38 601.2,191.30 601.7,191.22 602.2,191.13 602.7,191.05 603.2,190.96 603.7,190.87 604.2,190.79 604.7,190.70 605.2,190.60 605.7,190.51 606.2,190.42 606.7,190.32 607.2,190.22 607.7,190.12 608.2,190.02 608.7,189.92 609.2,189.82 609.7,189.72 610.2,189.61 610.7,189.50 611.2,189.39 611.7,189.28 612.2,189.17 612.7,189.06 613.2,188.94 613.7,188.82 614.2,188.70 614.7,188.58 615.2,188.46 615.7,188.34 616.2,188.21 616.7,188.08 617.2,187.95 617.7,187.82 618.2,187.69 618.7,187.56 619.2,187.42 619.7,187.28 620.2,187.14 620.7,187.00 621.2,186.85 621.7,186.71 622.2,186.56 622.7,186.41 623.2,186.26 623.7,186.10 624.2,185.94 624.7,185.78 625.2,185.62 625.7,185.46 626.2,185.29 626.7,185.13 627.2,184.96 627.7,184.78 628.2,184.61 628.7,184.43 629.2,184.25 629.7,184.07 630.2,183.89 630.7,183.70 631.2,183.51 631.7,183.32 632.2,183.12 632.7,182.92 633.2,182.72 633.7,182.52 634.2,182.32 634.7,182.11 635.2,181.90 635.7,181.68 636.2,181.46 636.7,181.24 637.2,181.02 637.7,180.80 638.2,180.57 638.7,180.33 639.2,180.10 639.7,179.86 640.2,179.62 640.7,179.37 641.2,179.12 641.7,178.87 642.2,178.62 642.7,178.36 643.2,178.09 643.7,177.83 644.2,177.56 644.7,177.29 645.2,177.01 645.7,176.73 646.2,176.45 646.7,176.16 647.2,175.87 647.7,175.58 648.2,175.29 648.7,174.99 649.2,174.69 649.7,174.39 650.2,174.09 650.7,173.78 651.2,173.47 651.7,173.16 652.2,172.84 652.7,172.53 653.2,172.21 653.7,171.89 654.2,171.57 654.7,171.24 655.2,170.92 655.7,170.59 656.2,170.26 656.7,169.93 657.2,169.60 657.7,169.27 658.2,168.93 658.7,168.60 659.2,168.26 659.7,167.92 660.2,167.59 660.7,167.25 661.2,166.91 661.7,166.57 662.2,166.23 662.7,165.89 663.2,165.55 663.7,165.21 664.2,164.87 664.7,164.53 665.2,164.19 665.7,163.85 666.2,163.51 666.7,163.18 667.2,162.84 667.7,162.50 668.2,162.17 668.7,161.83 669.2,161.50 669.7,161.16 670.2,160.83 670.7,160.50 671.2,160.17 671.7,159.85 672.2,159.52 672.7,159.20 673.2,158.88 673.7,158.56 674.2,158.24 674.7,157.92 675.2,157.60 675.7,157.29 676.2,156.97 676.7,156.66 677.2,156.35 677.7,156.04 678.2,155.73 678.7,155.42 679.2,155.12 679.7,154.81 680.2,154.51 680.7,154.20 681.2,153.90 681.7,153.60 682.2,153.30 682.7,153.00 683.2,152.70 683.7,152.40 684.2,152.10 684.7,151.81 685.2,151.52 685.7,151.22 686.2,150.94 686.7,150.65 687.2,150.37 687.7,150.09 688.2,149.81 688.7,149.54 689.2,149.27 689.7,149.01 690.2,148.74 690.7,148.49 691.2,148.23 691.7,147.98 692.2,147.74 692.7,147.50 693.2,147.27 693.7,147.04 694.2,146.81 694.7,146.59 695.2,146.38 695.7,146.17 696.2,145.97 696.7,145.77 697.2,145.58 697.7,145.39 698.2,145.21 698.7,145.04 699.2,144.87 699.7,144.71 700.2,144.56 700.7,144.41 701.2,144.27 701.7,144.13 702.2,144.00 702.7,143.88 703.2,143.76 703.7,143.65 704.2,143.54 704.7,143.44 705.2,143.34 705.7,143.25 706.2,143.17 706.7,143.09 707.2,143.01 707.7,142.95 708.2,142.88 708.7,142.82 709.2,142.77 709.7,142.72 710.2,142.68 710.7,142.64 711.2,142.61 711.7,142.58 712.2,142.56 712.7,142.54 713.2,142.52 713.7,142.52 714.2,142.51 714.7,142.51 715.2,142.52 715.7,142.53 716.2,142.55 716.7,142.57 717.2,142.60 717.7,142.63 718.2,142.66 718.7,142.70 719.2,142.75 719.7,142.80 720.2,142.86 720.7,142.92 721.2,142.99 721.7,143.06 722.2,143.13 722.7,143.22 723.2,143.30 723.7,143.39 724.2,143.49 724.7,143.60 725.2,143.70 725.7,143.82 726.2,143.94 726.7,144.06 727.2,144.19 727.7,144.33 728.2,144.47 728.7,144.62 729.2,144.78 729.7,144.94 730.2,145.11 730.7,145.28 731.2,145.46 731.7,145.65 732.2,145.84 732.7,146.04 733.2,146.25 733.7,146.46 734.2,146.69 734.7,146.92 735.2,147.15 735.7,147.40 736.2,147.65 736.7,147.92 737.2,148.19 737.7,148.47 738.2,148.76 738.7,149.05 739.2,149.36 739.7,149.68 740.2,150.01 740.7,150.35 741.2,150.71 741.7,151.07 742.2,151.44 742.7,151.83 743.2,152.23 743.7,152.63 744.2,153.05 744.7,153.49 745.2,153.93 745.7,154.38 746.2,154.85 746.7,155.32 747.2,155.81 747.7,156.31 748.2,156.82 748.7,157.34 749.2,157.88 749.7,158.42 750.2,158.97 750.7,159.54 751.2,160.11 751.7,160.69 752.2,161.29 752.7,161.89 753.2,162.50 753.7,163.11 754.2,163.74 754.7,164.37 755.2,165.01 755.7,165.65 756.2,166.30 756.7,166.95 757.2,167.61 757.7,168.27 758.2,168.93 758.7,169.60 759.2,170.26 759.7,170.93 760.2,171.59 760.7,172.25 761.2,172.91 761.7,173.57 762.2,174.22 762.7,174.87 763.2,175.52 763.7,176.16 764.2,176.79 764.7,177.41 765.2,178.03 765.7,178.64 766.2,179.24 766.7,179.83 767.2,180.41 767.7,180.98 768.2,181.54 768.7,182.09 769.2,182.63 769.7,183.15 770.2,183.67 770.7,184.17"/>
<polyline fill="none" stroke="#00cd00" stroke-width="1.5" stroke-linecap="round" stroke-linejoin="round" points="522.2,184.44 522.7,184.43 523.2,184.43 523.7,184.42 524.2,184.41 524.7,184.41 525.2,184.40 525.7,184.40 526.2,184.39 526.7,184.39 527.2,184.39 527.7,184.38 528.2,184.38 528.7,184.37 529.2,184.37 529.7,184.37 530.2,184.36 530.7,184.36 531.2,184.36 531.7,184.35 532.2,184.35 532.7,184.35 533.2,184.35 533.7,184.34 534.2,184.34 534.7,184.34 535.2,184.34 535.7,184.34 536.2,184.34 536.7,184.33 537.2,184.33 537.7,184.33 538.2,184.33 538.7,184.33 539.2,184.33 539.7,184.33 540.2,184.32 540.7,184.32 541.2,184.32 541.7,184.32 542.2,184.32 542.7,184.32 543.2,184.32 543.7,184.32 544.2,184.31 544.7,184.31 545.2,184.31 545.7,184.31 546.2,184.31 546.7,184.31 547.2,184.31 547.7,184.30 548.2,184.30 548.7,184.30 549.2,184.30 549.7,184.30 550.2,184.29 550.7,184.29 551.2,184.29 551.7,184.29 552.2,184.28 552.7,184.28 553.2,184.28 553.7,184.28 554.2,184.27 554.7,184.27 555.2,184.27 555.7,184.26 556.2,184.26 556.7,184.25 557.2,184.25 557.7,184.24 558.2,184.24 558.7,184.23 559.2,184.23 559.7,184.22 560.2,184.22 560.7,184.21 561.2,184.21 561.7,184.20 562.2,184.19 562.7,184.19 563.2,184.18 563.7,184.17 564.2,184.16 564.7,184.15 565.2,184.14 565.7,184.14 566.2,184.13 566.7,184.12 567.2,184.11 567.7,184.10 568.2,184.09 568.7,184.07 569.2,184.06 569.7,184.05 570.2,184.04 570.7,184.03 571.2,184.01 571.7,184.00 572.2,183.99 572.7,183.97 573.2,183.96 573.7,183.94 574.2,183.93 574.7,183.91 575.2,183.89 575.7,183.88 576.2,183.86 576.7,183.84 577.2,183.82 577.7,183.80 578.2,183.78 578.7,183.76 579.2,183.74 579.7,183.72 580.2,183.70 580.7,183.68 581.2,183.66 581.7,183.63 582.2,183.61 582.7,183.59 583.2,183.56 583.7,183.53 584.2,183.51 584.7,183.48 585.2,183.45 585.7,183.43 586.2,183.40 586.7,183.37 587.2,183.34 587.7,183.31 588.2,183.28 588.7,183.25 589.2,183.21 589.7,183.18 590.2,183.15 590.7,183.11 591.2,183.08 591.7,183.04 592.2,183.01 592.7,182.97 593.2,182.93 593.7,182.89 594.2,182.85 594.7,182.81 595.2,182.77 595.7,182.73 596.2,182.69 596.7,182.64 597.2,182.60 597.7,182.56 598.2,182.51 598.7,182.46 599.2,182.42 599.7,182.37 600.2,182.32 600.7,182.27 601.2,182.22 601.7,182.17 602.2,182.11 602.7,182.06 603.2,182.00 603.7,181.95 604.2,181.89 604.7,181.83 605.2,181.77 605.7,181.71 606.2,181.65 606.7,181.59 607.2,181.52 607.7,181.46 608.2,181.39 608.7,181.32 609.2,181.26 609.7,181.18 610.2,181.11 610.7,181.04 611.2,180.96 611.7,180.89 612.2,180.81 612.7,180.73 613.2,180.65 613.7,180.57 614.2,180.48 614.7,180.40 615.2,180.31 615.7,180.22 616.2,180.13 616.7,180.04 617.2,179.94 617.7,179.85 618.2,179.75 618.7,179.65 619.2,179.55 619.7,179.45 620.2,179.34 620.7,179.24 621.2,179.13 621.7,179.02 622.2,178.90 622.7,178.79 623.2,178.68 623.7,178.56 624.2,178.44 624.7,178.32 625.2,178.20 625.7,178.07 626.2,177.95 626.7,177.82 627.2,177.69 627.7,177.56 628.2,177.43 628.7,177.29 629.2,177.16 629.7,177.02 630.2,176.88 630.7,176.74 631.2,176.60 631.7,176.46 632.2,176.31 632.7,176.17 633.2,176.02 633.7,175.87 634.2,175.72 634.7,175.56 635.2,175.41 635.7,175.26 636.2,175.10 636.7,174.94 637.2,174.78 637.7,174.62 638.2,174.46 638.7,174.29 639.2,174.13 639.7,173.96 640.2,173.79 640.7,173.62 641.2,173.45 641.7,173.28 642.2,173.11 642.7,172.93 643.2,172.76 643.7,172.58 644.2,172.40 644.7,172.22 645.2,172.04 645.7,171.86 646.2,171.67 646.7,171.49 647.2,171.30 647.7,171.11 648.2,170.92 648.7,170.73 649.2,170.53 649.7,170.34 650.2,170.14 650.7,169.94 651.2,169.74 651.7,169.54 652.2,169.33 652.7,169.12 653.2,168.92 653.7,168.71 654.2,168.49 654.7,168.28 655.2,168.06 655.7,167.84 656.2,167.62 656.7,167.40 657.2,167.17 657.7,166.95 658.2,166.72 658.7,166.48 659.2,166.25 659.7,166.01 660.2,165.77 660.7,165.53 661.2,165.29 661.7,165.04 662.2,164.79 662.7,164.54 663.2,164.29 663.7,164.03 664.2,163.78 664.7,163.52 665.2,163.26 665.7,163.00 666.2,162.73 666.7,162.47 667.2,162.20 667.7,161.93 668.2,161.66 668.7,161.39 669.2,161.12 669.7,160.85 670.2,160.57 670.7,160.30 671.2,160.02 671.7,159.75 672.2,159.47 672.7,159.19 673.2,158.92 673.7,158.64 674.2,158.36 674.7,158.08 675.2,157.80 675.7,157.53 676.2,157.25 676.7,156.97 677.2,156.69 677.7,156.42 678.2,156.14 678.7,155.87 679.2,155.59 679.7,155.32 680.2,155.04 680.7,154.77 681.2,154.50 681.7,154.23 682.2,153.96 682.7,153.69 683.2,153.43 683.7,153.16 684.2,152.90 684.7,152.64 685.2,152.38 685.7,152.12 686.2,151.87 686.7,151.61 687.2,151.36 687.7,151.11 688.2,150.86 688.7,150.62 689.2,150.38 689.7,150.14 690.2,149.90 690.7,149.66 691.2,149.43 691.7,149.20 692.2,148.97 692.7,148.75 693.2,148.53 693.7,148.31 694.2,148.09 694.7,147.88 695.2,147.67 695.7,147.47 696.2,147.27 696.7,147.07 697.2,146.88 697.7,146.69 698.2,146.50 698.7,146.32 699.2,146.14 699.7,145.96 700.2,145.80 700.7,145.63 701.2,145.47 701.7,145.31 702.2,145.16 702.7,145.01 703.2,144.86 703.7,144.72 704.2,144.59 704.7,144.46 705.2,144.33 705.7,144.21 706.2,144.09 706.7,143.97 707.2,143.86 707.7,143.76 708.2,143.66 708.7,143.56 709.2,143.47 709.7,143.38 710.2,143.29 710.7,143.21 711.2,143.14 711.7,143.07 712.2,143.00 712.7,142.94 713.2,142.88 713.7,142.83 714.2,142.78 714.7,142.74 715.2,142.70 715.7,142.67 716.2,142.64 716.7,142.62 717.2,142.60 717.7,142.58 718.2,142.57 718.7,142.57 719.2,142.57 719.7,142.57 720.2,142.59 720.7,142.60 721.2,142.62 721.7,142.65 722.2,142.68 722.7,142.71 723.2,142.76 723.7,142.80 724.2,142.85 724.7,142.91 725.2,142.97 725.7,143.04 726.2,143.11 726.7,143.19 727.2,143.27 727.7,143.35 728.2,143.44 728.7,143.54 729.2,143.64 729.7,143.75 730.2,143.86 730.7,143.98 731.2,144.10 731.7,144.23 732.2,144.36 732.7,144.49 733.2,144.64 733.7,144.78 734.2,144.94 734.7,145.09 735.2,145.26 735.7,145.42 736.2,145.60 736.7,145.78 737.2,145.96 737.7,146.15 738.2,146.35 738.7,146.55 739.2,146.75 739.7,146.96 740.2,147.18 740.7,147.40 741.2,147.63 741.7,147.86 742.2,148.10 742.7,148.35 743.2,148.60 743.7,148.86 744.2,149.12 744.7,149.39 745.2,149.67 745.7,149.95 746.2,150.24 746.7,150.54 747.2,150.84 747.7,151.15 748.2,151.46 748.7,151.79 749.2,152.12 749.7,152.45 750.2,152.80 750.7,153.15 751.2,153.51 751.7,153.87 752.2,154.25 752.7,154.63 753.2,155.02 753.7,155.42 754.2,155.82 754.7,156.23 755.2,156.65 755.7,157.08 756.2,157.51 756.7,157.96 757.2,158.41 757.7,158.87 758.2,159.33 758.7,159.81 759.2,160.29 759.7,160.78 760.2,161.28 760.7,161.78 761.2,162.29 761.7,162.81 762.2,163.34 762.7,163.88 763.2,164.42 763.7,164.97 764.2,165.53 764.7,166.10 765.2,166.68 765.7,167.26 766.2,167.85 766.7,168.45 767.2,169.05 767.7,169.66 768.2,170.28 768.7,170.91 769.2,171.54 769.7,172.19 770.2,172.83 770.7,173.42"/>
<polyline fill="none" stroke="#ff0000" stroke-width="1.5" stroke-linecap="round" stroke-linejoin="round" points="522.2,179.98 522.7,179.98 523.2,179.98 523.7,179.98 524.2,179.98 524.7,179.98 525.2,179.98 525.7,179.98 526.2,179.98 526.7,179.98 527.2,179.98 527.7,179.98 528.2,179.98 528.7,179.98 529.2,179.98 529.7,179.98 530.2,179.98 530.7,179.98 531.2,179.98 531.7,179.98 532.2,179.98 532.7,179.98 533.2,179.98 533.7,179.98 534.2,179.98 534.7,179.98 535.2,179.98 535.7,179.98 536.2,179.98 536.7,179.98 537.2,179.98 537.7,179.98 538.2,179.98 538.7,179.98 539.2,179.98 539.7,179.98 540.2,179.98 540.7,179.97 541.2,179.97 541.7,179.97 542.2,179.97 542.7,179.97 543.2,179.97 543.7,179.97 544.2,179.96 544.7,179.96 545.2,179.96 545.7,179.96 546.2,179.96 546.7,179.95 547.2,179.95 547.7,179.95 548.2,179.95 548.7,179.94 549.2,179.94 549.7,179.94 550.2,179.94 550.7,179.93 551.2,179.93 551.7,179.93 552.2,179.92 552.7,179.92 553.2,179.92 553.7,179.91 554.2,179.91 554.7,179.91 555.2,179.90 555.7,179.90 556.2,179.89 556.7,179.89 557.2,179.88 557.7,179.88 558.2,179.88 558.7,179.87 559.2,179.87 559.7,179.86 560.2,179.86 560.7,179.85 561.2,179.84 561.7,179.84 562.2,179.83 562.7,179.83 563.2,179.82 563.7,179.81 564.2,179.81 564.7,179.80 565.2,179.79 565.7,179.79 566.2,179.78 566.7,179.77 567.2,179.77 567.7,179.76 568.2,179.75 568.7,179.74 569.2,179.74 569.7,179.73 570.2,179.72 570.7,179.71 571.2,179.70 571.7,179.69 572.2,179.68 572.7,179.67 573.2,179.67 573.7,179.66 574.2,179.65 574.7,179.64 575.2,179.63 575.7,179.62 576.2,179.61 576.7,179.59 577.2,179.58 577.7,179.57 578.2,179.56 578.7,179.55 579.2,179.54 579.7,179.53 580.2,179.52 580.7,179.50 581.2,179.49 581.7,179.48 582.2,179.47 582.7,179.45 583.2,179.44 583.7,179.43 584.2,179.41 584.7,179.40 585.2,179.38 585.7,179.37 586.2,179.36 586.7,179.34 587.2,179.33 587.7,179.31 588.2,179.30 588.7,179.28 589.2,179.26 589.7,179.25 590.2,179.23 590.7,179.22 591.2,179.20 591.7,179.18 592.2,179.16 592.7,179.15 593.2,179.13 593.7,179.11 594.2,179.09 594.7,179.07 595.2,179.06 595.7,179.04 596.2,179.02 596.7,179.00 597.2,178.98 597.7,178.96 598.2,178.94 598.7,178.92 599.2,178.89 599.7,178.87 600.2,178.85 600.7,178.83 601.2,178.80 601.7,178.78 602.2,178.76 602.7,178.73 603.2,178.71 603.7,178.68 604.2,178.65 604.7,178.63 605.2,178.60 605.7,178.57 606.2,178.54 606.7,178.51 607.2,178.48 607.7,178.45 608.2,178.42 608.7,178.39 609.2,178.36 609.7,178.33 610.2,178.29 610.7,178.26 611.2,178.23 611.7,178.19 612.2,178.15 612.7,178.12 613.2,178.08 613.7,178.04 614.2,178.00 614.7,177.96 615.2,177.92 615.7,177.88 616.2,177.84 616.7,177.79 617.2,177.75 617.7,177.71 618.2,177.66 618.7,177.61 619.2,177.57 619.7,177.52 620.2,177.47 620.7,177.42 621.2,177.37 621.7,177.31 622.2,177.26 622.7,177.21 623.2,177.15 623.7,177.10 624.2,177.04 624.7,176.98 625.2,176.92 625.7,176.86 626.2,176.80 626.7,176.74 627.2,176.67 627.7,176.61 628.2,176.54 628.7,176.47 629.2,176.41 629.7,176.34 630.2,176.27 630.7,176.19 631.2,176.12 631.7,176.05 632.2,175.97 632.7,175.89 633.2,175.81 633.7,175.73 634.2,175.65 634.7,175.57 635.2,175.49 635.7,175.40 636.2,175.32 636.7,175.23 637.2,175.14 637.7,175.05 638.2,174.95 638.7,174.86 639.2,174.77 639.7,174.67 640.2,174.57 640.7,174.47 641.2,174.37 641.7,174.27 642.2,174.16 642.7,174.05 643.2,173.95 643.7,173.84 644.2,173.72 644.7,173.61 645.2,173.50 645.7,173.38 646.2,173.26 646.7,173.14 647.2,173.02 647.7,172.90 648.2,172.77 648.7,172.64 649.2,172.51 649.7,172.38 650.2,172.25 650.7,172.11 651.2,171.98 651.7,171.84 652.2,171.70 652.7,171.55 653.2,171.41 653.7,171.26 654.2,171.11 654.7,170.96 655.2,170.80 655.7,170.65 656.2,170.49 656.7,170.33 657.2,170.17 657.7,170.00 658.2,169.83 658.7,169.66 659.2,169.49 659.7,169.32 660.2,169.14 660.7,168.96 661.2,168.78 661.7,168.60 662.2,168.41 662.7,168.22 663.2,168.03 663.7,167.84 664.2,167.64 664.7,167.45 665.2,167.25 665.7,167.05 666.2,166.84 666.7,166.64 667.2,166.43 667.7,166.23 668.2,166.02 668.7,165.81 669.2,165.59 669.7,165.38 670.2,165.16 670.7,164.95 671.2,164.73 671.7,164.51 672.2,164.29 672.7,164.07 673.2,163.84 673.7,163.62 674.2,163.40 674.7,163.17 675.2,162.94 675.7,162.72 676.2,162.49 676.7,162.26 677.2,162.03 677.7,161.80 678.2,161.57 678.7,161.34 679.2,161.11 679.7,160.88 680.2,160.65 680.7,160.42 681.2,160.19 681.7,159.96 682.2,159.72 682.7,159.49 683.2,159.26 683.7,159.03 684.2,158.80 684.7,158.57 685.2,158.34 685.7,158.11 686.2,157.88 686.7,157.66 687.2,157.43 687.7,157.20 688.2,156.98 688.7,156.75 689.2,156.53 689.7,156.30 690.2,156.08 690.7,155.86 691.2,155.64 691.7,155.42 692.2,155.21 692.7,154.99 693.2,154.78 693.7,154.56 694.2,154.35 694.7,154.14 695.2,153.93 695.7,153.72 696.2,153.52 696.7,153.31 697.2,153.11 697.7,152.91 698.2,152.71 698.7,152.52 699.2,152.32 699.7,152.13 700.2,151.94 700.7,151.75 701.2,151.57 701.7,151.38 702.2,151.20 702.7,151.02 703.2,150.84 703.7,150.67 704.2,150.50 704.7,150.33 705.2,150.16 705.7,149.99 706.2,149.83 706.7,149.67 707.2,149.51 707.7,149.35 708.2,149.20 708.7,149.05 709.2,148.90 709.7,148.75 710.2,148.61 710.7,148.47 711.2,148.33 711.7,148.19 712.2,148.06 712.7,147.93 713.2,147.80 713.7,147.67 714.2,147.55 714.7,147.43 715.2,147.31 715.7,147.20 716.2,147.09 716.7,146.98 717.2,146.88 717.7,146.77 718.2,146.67 718.7,146.58 719.2,146.48 719.7,146.39 720.2,146.31 720.7,146.22 721.2,146.14 721.7,146.06 722.2,145.99 722.7,145.92 723.2,145.85 723.7,145.78 724.2,145.72 724.7,145.66 725.2,145.61 725.7,145.56 726.2,145.51 726.7,145.47 727.2,145.42 727.7,145.39 728.2,145.35 728.7,145.32 729.2,145.30 729.7,145.28 730.2,145.26 730.7,145.24 731.2,145.23 731.7,145.22 732.2,145.22 732.7,145.22 733.2,145.23 733.7,145.23 734.2,145.25 734.7,145.26 735.2,145.29 735.7,145.31 736.2,145.34 736.7,145.37 737.2,145.41 737.7,145.45 738.2,145.50 738.7,145.55 739.2,145.61 739.7,145.67 740.2,145.74 740.7,145.81 741.2,145.88 741.7,145.96 742.2,146.05 742.7,146.13 743.2,146.23 743.7,146.33 744.2,146.43 744.7,146.54 745.2,146.66 745.7,146.78 746.2,146.90 746.7,147.03 747.2,147.17 747.7,147.31 748.2,147.46 748.7,147.61 749.2,147.77 749.7,147.94 750.2,148.11 750.7,148.28 751.2,148.47 751.7,148.65 752.2,148.85 752.7,149.05 753.2,149.25 753.7,149.46 754.2,149.68 754.7,149.90 755.2,150.13 755.7,150.36 756.2,150.60 756.7,150.85 757.2,151.10 757.7,151.36 758.2,151.62 758.7,151.88 759.2,152.16 759.7,152.43 760.2,152.72 760.7,153.01 761.2,153.30 761.7,153.60 762.2,153.91 762.7,154.22 763.2,154.54 763.7,154.86 764.2,155.19 764.7,155.52 765.2,155.86 765.7,156.20 766.2,156.56 766.7,156.91 767.2,157.27 767.7,157.64 768.2,158.02 768.7,158.39 769.2,158.78 769.7,159.17 770.2,159.57 770.7,159.97"/>
<polyline fill="none" stroke="#000000" stroke-width="1.5" stroke-linecap="round" stroke-linejoin="round" points="522.2,248.65 522.7,248.65 523.2,248.65 523.7,248.65 524.2,248.65 524.7,248.65 525.2,248.65 525.7,248.64 526.2,248.64 526.7,248.64 527.2,248.63 527.7,248.63 528.2,248.62 528.7,248.62 529.2,248.61 529.7,248.60 530.2,248.60 530.7,248.59 531.2,248.58 531.7,248.57 532.2,248.56 532.7,248.55 533.2,248.54 533.7,248.53 534.2,248.52 534.7,248.50 535.2,248.49 535.7,248.48 536.2,248.46 536.7,248.45 537.2,248.43 537.7,248.42 538.2,248.40 538.7,248.39 539.2,248.37 539.7,248.35 540.2,248.34 540.7,248.32 541.2,248.30 541.7,248.28 542.2,248.26 542.7,248.24 543.2,248.23 543.7,248.21 544.2,248.19 544.7,248.16 545.2,248.14 545.7,248.12 546.2,248.10 546.7,248.08 547.2,248.06 547.7,248.04 548.2,248.01 548.7,247.99 549.2,247.97 549.7,247.94 550.2,247.92 550.7,247.90 551.2,247.87 551.7,247.85 552.2,247.82 552.7,247.80 553.2,247.77 553.7,247.75 554.2,247.72 554.7,247.70 555.2,247.67 555.7,247.65 556.2,247.62 556.7,247.60 557.2,247.57 557.7,247.54 558.2,247.52 558.7,247.49 559.2,247.47 559.7,247.44 560.2,247.41 560.7,247.39 561.2,247.36 561.7,247.33 562.2,247.31 562.7,247.28 563.2,247.25 563.7,247.23 564.2,247.20 564.7,247.17 565.2,247.15 565.7,247.12 566.2,247.09 566.7,247.06 567.2,247.03 567.7,247.01 568.2,246.98 568.7,246.95 569.2,246.92 569.7,246.89 570.2,246.86 570.7,246.83 571.2,246.79 571.7,246.76 572.2,246.73 572.7,246.70 573.2,246.66 573.7,246.63 574.2,246.59 574.7,246.55 575.2,246.52 575.7,246.48 576.2,246.44 576.7,246.40 577.2,246.36 577.7,246.32 578.2,246.28 578.7,246.23 579.2,246.19 579.7,246.14 580.2,246.10 580.7,246.05 581.2,246.00 581.7,245.95 582.2,245.90 582.7,245.85 583.2,245.80 583.7,245.74 584.2,245.68 584.7,245.63 585.2,245.57 585.7,245.51 586.2,245.45 586.7,245.38 587.2,245.32 587.7,245.25 588.2,245.18 588.7,245.11 589.2,245.04 589.7,244.97 590.2,244.90 590.7,244.82 591.2,244.74 591.7,244.66 592.2,244.58 592.7,244.50 593.2,244.41 593.7,244.32 594.2,244.23 594.7,244.14 595.2,244.05 595.7,243.95 596.2,243.85 596.7,243.75 597.2,243.65 597.7,243.54 598.2,243.44 598.7,243.33 599.2,243.22 599.7,243.10 600.2,242.99 600.7,242.87 601.2,242.74 601.7,242.62 602.2,242.49 602.7,242.36 603.2,242.23 603.7,242.10 604.2,241.96 604.7,241.82 605.2,241.68 605.7,241.53 606.2,241.38 606.7,241.23 607.2,241.08 607.7,240.92 608.2,240.76 608.7,240.60 609.2,240.43 609.7,240.27 610.2,240.10 610.7,239.92 611.2,239.75 611.7,239.57 612.2,239.39 612.7,239.21 613.2,239.02 613.7,238.83 614.2,238.64 614.7,238.44 615.2,238.24 615.7,238.04 616.2,237.84 616.7,237.63 617.2,237.42 617.7,237.21 618.2,237.00 618.7,236.78 619.2,236.56 619.7,236.33 620.2,236.11 620.7,235.88 621.2,235.64 621.7,235.41 622.2,235.17 622.7,234.93 623.2,234.68 623.7,234.43 624.2,234.18 624.7,233.93 625.2,233.67 625.7,233.41 626.2,233.14 626.7,232.88 627.2,232.61 627.7,232.33 628.2,232.06 628.7,231.78 629.2,231.49 629.7,231.21 630.2,230.91 630.7,230.62 631.2,230.32 631.7,230.02 632.2,229.72 632.7,229.41 633.2,229.10 633.7,228.78 634.2,228.46 634.7,228.14 635.2,227.82 635.7,227.49 636.2,227.15 636.7,226.81 637.2,226.47 637.7,226.13 638.2,225.78 638.7,225.42 639.2,225.07 639.7,224.70 640.2,224.34 640.7,223.97 641.2,223.59 641.7,223.21 642.2,222.83 642.7,222.44 643.2,222.05 643.7,221.65 644.2,221.25 644.7,220.84 645.2,220.43 645.7,220.02 646.2,219.59 646.7,219.17 647.2,218.74 647.7,218.30 648.2,217.86 648.7,217.41 649.2,216.96 649.7,216.50 650.2,216.04 650.7,215.57 651.2,215.10 651.7,214.62 652.2,214.14 652.7,213.66 653.2,213.16 653.7,212.67 654.2,212.16 654.7,211.66 655.2,211.15 655.7,210.63 656.2,210.11 656.7,209.58 657.2,209.05 657.7,208.51 658.2,207.97 658.7,207.43 659.2,206.88 659.7,206.32 660.2,205.77 660.7,205.20 661.2,204.64 661.7,204.06 662.2,203.49 662.7,202.91 663.2,202.33 663.7,201.74 664.2,201.15 664.7,200.55 665.2,199.95 665.7,199.35 666.2,198.74 666.7,198.14 667.2,197.52 667.7,196.91 668.2,196.29 668.7,195.67 669.2,195.05 669.7,194.43 670.2,193.80 670.7,193.17 671.2,192.55 671.7,191.92 672.2,191.29 672.7,190.65 673.2,190.02 673.7,189.39 674.2,188.76 674.7,188.13 675.2,187.50 675.7,186.86 676.2,186.24 676.7,185.61 677.2,184.98 677.7,184.35 678.2,183.73 678.7,183.11 679.2,182.49 679.7,181.87 680.2,181.26 680.7,180.64 681.2,180.03 681.7,179.43 682.2,178.83 682.7,178.23 683.2,177.63 683.7,177.04 684.2,176.45 684.7,175.87 685.2,175.29 685.7,174.71 686.2,174.14 686.7,173.58 687.2,173.02 687.7,172.46 688.2,171.91 688.7,171.36 689.2,170.82 689.7,170.29 690.2,169.76 690.7,169.23 691.2,168.71 691.7,168.20 692.2,167.69 692.7,167.19 693.2,166.69 693.7,166.20 694.2,165.71 694.7,165.23 695.2,164.76 695.7,164.29 696.2,163.82 696.7,163.37 697.2,162.91 697.7,162.47 698.2,162.03 698.7,161.59 699.2,161.16 699.7,160.74 700.2,160.32 700.7,159.91 701.2,159.51 701.7,159.11 702.2,158.71 702.7,158.32 703.2,157.94 703.7,157.56 704.2,157.19 704.7,156.82 705.2,156.46 705.7,156.11 706.2,155.76 706.7,155.42 707.2,155.09 707.7,154.76 708.2,154.44 708.7,154.12 709.2,153.81 709.7,153.51 710.2,153.22 710.7,152.93 711.2,152.66 711.7,152.39 712.2,152.12 712.7,151.87 713.2,151.62 713.7,151.38 714.2,151.15 714.7,150.92 715.2,150.71 715.7,150.50 716.2,150.30 716.7,150.11 717.2,149.92 717.7,149.75 718.2,149.58 718.7,149.43 719.2,149.28 719.7,149.14 720.2,149.01 720.7,148.89 721.2,148.78 721.7,148.67 722.2,148.58 722.7,148.49 723.2,148.42 723.7,148.35 724.2,148.30 724.7,148.25 725.2,148.21 725.7,148.19 726.2,148.17 726.7,148.16 727.2,148.16 727.7,148.17 728.2,148.19 728.7,148.22 729.2,148.26 729.7,148.30 730.2,148.36 730.7,148.42 731.2,148.49 731.7,148.57 732.2,148.66 732.7,148.76 733.2,148.86 733.7,148.97 734.2,149.10 734.7,149.23 735.2,149.37 735.7,149.52 736.2,149.68 736.7,149.84 737.2,150.02 737.7,150.20 738.2,150.40 738.7,150.60 739.2,150.81 739.7,151.03 740.2,151.27 740.7,151.51 741.2,151.76 741.7,152.03 742.2,152.30 742.7,152.58 743.2,152.88 743.7,153.19 744.2,153.50 744.7,153.83 745.2,154.17 745.7,154.52 746.2,154.88 746.7,155.25 747.2,155.63 747.7,156.03 748.2,156.44 748.7,156.86 749.2,157.29 749.7,157.73 750.2,158.18 750.7,158.65 751.2,159.13 751.7,159.62 752.2,160.12 752.7,160.63 753.2,161.15 753.7,161.69 754.2,162.23 754.7,162.78 755.2,163.35 755.7,163.92 756.2,164.50 756.7,165.09 757.2,165.68 757.7,166.29 758.2,166.90 758.7,167.51 759.2,168.13 759.7,168.75 760.2,169.38 760.7,170.01 761.2,170.64 761.7,171.27 762.2,171.90 762.7,172.53 763.2,173.16 763.7,173.78 764.2,174.40 764.7,175.02 765.2,175.63 765.7,176.23 766.2,176.83 766.7,177.42 767.2,178.00 767.7,178.57 768.2,179.14 768.7,179.69 769.2,180.23 769.7,180.76 770.2,181.28 770.7,181.76"/>
</g>
<rect x="512.2" y="97.2" width="268.3" height="196.8" fill="none" stroke="#000" stroke-width="1.35"/>
<line x1="512.2" y1="286.7" x2="512.2" y2="104.5" stroke="#000" stroke-width="1.35"/>
<line x1="500.2" y1="286.7" x2="512.2" y2="286.7" stroke="#000" stroke-width="1.35"/>
<line x1="500.2" y1="256.3" x2="512.2" y2="256.3" stroke="#000" stroke-width="1.35"/>
<line x1="500.2" y1="226.0" x2="512.2" y2="226.0" stroke="#000" stroke-width="1.35"/>
<line x1="500.2" y1="195.6" x2="512.2" y2="195.6" stroke="#000" stroke-width="1.35"/>
<line x1="500.2" y1="165.2" x2="512.2" y2="165.2" stroke="#000" stroke-width="1.35"/>
<line x1="500.2" y1="134.9" x2="512.2" y2="134.9" stroke="#000" stroke-width="1.35"/>
<line x1="500.2" y1="104.5" x2="512.2" y2="104.5" stroke="#000" stroke-width="1.35"/>
<text transform="translate(483.5,287.3) rotate(-90)" text-anchor="middle" font-size="19.92">2.10</text>
<text transform="translate(483.5,226.6) rotate(-90)" text-anchor="middle" font-size="19.92">2.20</text>
<text transform="translate(483.5,165.8) rotate(-90)" text-anchor="middle" font-size="19.92">2.30</text>
<text transform="translate(483.5,105.1) rotate(-90)" text-anchor="middle" font-size="19.92">2.40</text>
<text x="645.9" y="383.6" text-anchor="middle" font-size="19.92" textLength="96.4" lengthAdjust="spacing">Complexity</text>
<text transform="translate(436.6,195.6) rotate(-90)" text-anchor="middle" font-size="19.92">Sum Correlation</text>
</svg>
</body></html>
